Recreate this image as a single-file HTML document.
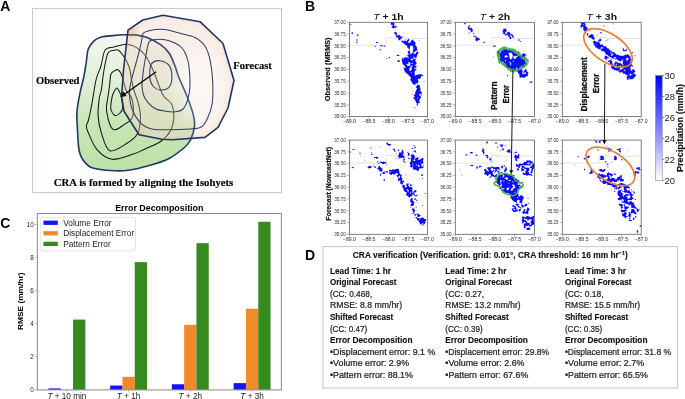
<!DOCTYPE html><html><head><meta charset="utf-8"><style>html,body{margin:0;padding:0;background:#fff;overflow:hidden}svg{display:block}</style></head><body>
<svg width="685" height="399" viewBox="0 0 685 399" font-family="Liberation Sans, sans-serif" style="will-change:transform">
<rect width="685" height="399" fill="#fff"/>
<text x="0.3" y="10.6" font-size="14" font-weight="bold">A</text>
<text x="305" y="10.6" font-size="14" font-weight="bold">B</text>
<text x="0.2" y="227.8" font-size="14" font-weight="bold">C</text>
<text x="305" y="259.8" font-size="14" font-weight="bold">D</text>
<defs>
<linearGradient id="gObs" x1="0" y1="35" x2="0" y2="171" gradientUnits="userSpaceOnUse"><stop offset="0" stop-color="#f2f7ef"/><stop offset="0.35" stop-color="#e0f0d8"/><stop offset="0.65" stop-color="#c7e6b5"/><stop offset="1" stop-color="#bde1a9"/></linearGradient>
<radialGradient id="gFc" cx="196" cy="88" r="80" gradientUnits="userSpaceOnUse"><stop offset="0" stop-color="#ffffff" stop-opacity="0.35"/><stop offset="0.55" stop-color="#f6e6dc" stop-opacity="0.62"/><stop offset="0.85" stop-color="#f1d5c2" stop-opacity="0.75"/><stop offset="1" stop-color="#efc4a5" stop-opacity="0.9"/></radialGradient>
<clipPath id="cFc"><path d="M128.0,30.2 L142.8,20.0 L163.0,15.2 L200.0,21.7 L223.0,43.5 L234.0,80.5 L228.0,108.0 L218.0,127.4 L205.0,137.4 L172.0,139.8 L162.0,139.2 L139.0,134.7 L124.0,111.3 L121.6,96.0 L123.5,70.0Z"/></clipPath>
<filter id="fBlur" x="-20%" y="-20%" width="140%" height="140%"><feGaussianBlur stdDeviation="2.2"/></filter>
<filter id="fBlur2" x="-50%" y="-50%" width="200%" height="200%"><feGaussianBlur stdDeviation="9"/></filter>
</defs>
<g id="panelA">
<rect x="32.6" y="8.4" width="248.9" height="184.3" fill="#fff" stroke="#c1c6d6" stroke-width="1"/>
<path d="M88.3,49.0 C89.6,45.5 92.1,42.7 94.3,40.7 C96.5,38.7 98.3,38.0 101.4,37.1 C104.5,36.2 109.3,36.0 113.0,35.6 C116.7,35.2 120.0,34.9 123.8,34.8 C127.6,34.7 131.8,34.5 135.7,35.0 C139.6,35.5 142.8,35.9 147.0,37.5 C151.2,39.1 156.9,42.1 160.6,44.7 C164.3,47.3 166.6,49.5 169.0,53.0 C171.4,56.5 173.4,62.0 175.0,66.0 C176.6,70.0 176.7,72.0 178.8,77.3 C180.9,82.5 185.1,91.2 187.5,97.5 C189.9,103.8 192.1,110.0 193.3,114.8 C194.5,119.6 195.0,122.1 194.5,126.3 C194.0,130.5 192.1,136.5 190.4,140.0 C188.7,143.5 187.9,144.5 184.4,147.5 C180.9,150.5 175.2,155.2 169.5,158.2 C163.8,161.2 156.9,163.3 150.0,165.3 C143.1,167.3 134.9,169.4 128.2,170.3 C121.5,171.2 116.0,170.9 110.0,170.5 C104.0,170.1 96.5,169.6 92.0,167.8 C87.5,166.1 85.2,163.0 83.0,160.0 C80.8,157.0 79.9,155.0 79.0,150.0 C78.1,145.0 77.8,136.4 77.5,130.0 C77.2,123.5 76.5,117.6 77.0,111.3 C77.5,105.0 79.0,97.9 80.2,92.0 C81.4,86.1 83.0,81.0 84.0,76.0 C85.0,71.0 85.6,66.5 86.3,62.0 C87.0,57.5 87.0,52.5 88.3,49.0Z" fill="url(#gObs)"/>
<path d="M105.1,50.0 C107.3,46.8 110.8,47.9 114.0,47.0 C117.2,46.1 121.6,44.8 124.1,44.4 C126.6,44.0 127.0,44.2 129.0,44.7 C131.0,45.2 133.5,45.7 136.2,47.4 C138.9,49.1 142.2,51.2 145.0,55.0 C147.8,58.8 150.0,63.4 153.0,70.0 C156.0,76.6 159.7,89.1 162.8,94.8 C165.9,100.5 169.8,100.2 171.6,104.0 C173.4,107.8 174.0,113.3 173.8,117.7 C173.6,122.1 172.7,126.6 170.6,130.5 C168.5,134.4 165.3,138.1 161.0,141.2 C156.7,144.3 149.6,146.9 145.0,149.0 C140.4,151.1 138.8,152.3 133.3,154.0 C127.8,155.7 118.0,160.0 112.0,159.3 C106.0,158.6 101.0,154.2 97.0,149.7 C93.0,145.1 89.8,135.9 88.0,132.0 C86.2,128.1 86.3,128.0 86.4,126.0 C86.5,124.0 87.6,123.5 88.5,120.0 C89.4,116.5 90.5,111.7 91.7,105.0 C93.0,98.3 94.5,86.5 96.0,80.0 C97.5,73.5 99.5,71.0 101.0,66.0 C102.5,61.0 102.9,53.2 105.1,50.0Z" fill="none" stroke="#161616" stroke-width="1.05"/>
<path d="M108.0,53.0 C109.5,49.8 111.3,51.0 113.0,50.5 C114.7,50.0 116.5,49.4 118.0,50.0 C119.5,50.6 120.5,52.0 122.0,54.0 C123.5,56.0 125.7,59.3 127.0,62.0 C128.3,64.7 129.2,67.0 130.0,70.0 C130.8,73.0 130.8,76.3 131.5,80.0 C132.2,83.7 133.3,88.0 134.5,92.0 C135.7,96.0 137.5,99.7 138.5,104.0 C139.5,108.3 140.7,113.0 140.5,118.0 C140.3,123.0 139.8,129.5 137.5,133.7 C135.2,137.9 131.5,140.5 126.9,143.3 C122.3,146.1 114.1,152.5 109.8,150.7 C105.5,148.9 103.2,138.4 101.3,132.6 C99.3,126.8 98.4,121.3 98.1,115.6 C97.8,109.9 98.7,102.8 99.2,98.5 C99.7,94.2 100.5,94.8 101.3,90.0 C102.1,85.2 102.9,76.2 104.0,70.0 C105.1,63.8 106.5,56.2 108.0,53.0Z" fill="none" stroke="#161616" stroke-width="1.05"/>
<path d="M111.0,74.0 C111.9,71.4 113.8,71.2 115.0,70.5 C116.2,69.8 117.3,69.1 118.5,70.0 C119.7,70.9 120.8,72.7 122.0,76.0 C123.2,79.3 124.5,86.5 126.0,90.0 C127.5,93.5 130.0,94.2 131.2,97.0 C132.4,99.8 133.1,103.5 133.3,107.0 C133.5,110.5 133.6,114.9 132.2,117.7 C130.8,120.5 128.0,122.1 124.8,124.1 C121.6,126.0 116.0,131.5 113.0,129.4 C110.0,127.3 107.5,116.5 106.6,111.3 C105.7,106.1 107.2,102.7 107.7,98.5 C108.2,94.3 109.0,90.1 109.5,86.0 C110.0,81.9 110.1,76.6 111.0,74.0Z" fill="none" stroke="#161616" stroke-width="1.05"/>
<path d="M115.0,90.0 C115.7,89.0 116.3,87.8 117.0,88.0 C117.7,88.2 118.3,89.7 119.0,91.0 C119.7,92.3 120.4,93.2 121.0,96.0 C121.6,98.8 122.8,105.2 122.6,108.0 C122.4,110.8 121.2,111.7 120.0,113.0 C118.8,114.3 116.7,116.2 115.2,115.6 C113.7,115.0 111.5,111.8 110.9,109.2 C110.3,106.6 111.2,102.5 111.5,100.0 C111.8,97.5 112.4,95.7 113.0,94.0 C113.6,92.3 114.3,91.0 115.0,90.0Z" fill="none" stroke="#161616" stroke-width="1.05"/>
<path d="M88.3,49.0 C89.6,45.5 92.1,42.7 94.3,40.7 C96.5,38.7 98.3,38.0 101.4,37.1 C104.5,36.2 109.3,36.0 113.0,35.6 C116.7,35.2 120.0,34.9 123.8,34.8 C127.6,34.7 131.8,34.5 135.7,35.0 C139.6,35.5 142.8,35.9 147.0,37.5 C151.2,39.1 156.9,42.1 160.6,44.7 C164.3,47.3 166.6,49.5 169.0,53.0 C171.4,56.5 173.4,62.0 175.0,66.0 C176.6,70.0 176.7,72.0 178.8,77.3 C180.9,82.5 185.1,91.2 187.5,97.5 C189.9,103.8 192.1,110.0 193.3,114.8 C194.5,119.6 195.0,122.1 194.5,126.3 C194.0,130.5 192.1,136.5 190.4,140.0 C188.7,143.5 187.9,144.5 184.4,147.5 C180.9,150.5 175.2,155.2 169.5,158.2 C163.8,161.2 156.9,163.3 150.0,165.3 C143.1,167.3 134.9,169.4 128.2,170.3 C121.5,171.2 116.0,170.9 110.0,170.5 C104.0,170.1 96.5,169.6 92.0,167.8 C87.5,166.1 85.2,163.0 83.0,160.0 C80.8,157.0 79.9,155.0 79.0,150.0 C78.1,145.0 77.8,136.4 77.5,130.0 C77.2,123.5 76.5,117.6 77.0,111.3 C77.5,105.0 79.0,97.9 80.2,92.0 C81.4,86.1 83.0,81.0 84.0,76.0 C85.0,71.0 85.6,66.5 86.3,62.0 C87.0,57.5 87.0,52.5 88.3,49.0Z" fill="none" stroke="#1f3763" stroke-width="1.6"/>
<path d="M128.0,30.2 L142.8,20.0 L163.0,15.2 L200.0,21.7 L223.0,43.5 L234.0,80.5 L228.0,108.0 L218.0,127.4 L205.0,137.4 L172.0,139.8 L162.0,139.2 L139.0,134.7 L124.0,111.3 L121.6,96.0 L123.5,70.0Z" fill="#f0d7c8" fill-opacity="0.42"/>
<g clip-path="url(#cFc)"><path d="M128.0,30.2 L142.8,20.0 L163.0,15.2 L200.0,21.7 L223.0,43.5 L234.0,80.5 L228.0,108.0 L218.0,127.4 L205.0,137.4 L172.0,139.8 L162.0,139.2 L139.0,134.7 L124.0,111.3 L121.6,96.0 L123.5,70.0Z" fill="none" stroke="#efc4a4" stroke-opacity="0.25" stroke-width="5" filter="url(#fBlur)"/><ellipse cx="200" cy="88" rx="26" ry="36" fill="#fff" fill-opacity="0.5" filter="url(#fBlur2)"/><circle cx="131" cy="31" r="6" fill="#efb88f" fill-opacity="0.55" filter="url(#fBlur)"/><circle cx="139" cy="134" r="5" fill="#efb88f" fill-opacity="0.5" filter="url(#fBlur)"/></g>
<g clip-path="url(#cFc)">
<path d="M105.1,50.0 C107.3,46.8 110.8,47.9 114.0,47.0 C117.2,46.1 121.6,44.8 124.1,44.4 C126.6,44.0 127.0,44.2 129.0,44.7 C131.0,45.2 133.5,45.7 136.2,47.4 C138.9,49.1 142.2,51.2 145.0,55.0 C147.8,58.8 150.0,63.4 153.0,70.0 C156.0,76.6 159.7,89.1 162.8,94.8 C165.9,100.5 169.8,100.2 171.6,104.0 C173.4,107.8 174.0,113.3 173.8,117.7 C173.6,122.1 172.7,126.6 170.6,130.5 C168.5,134.4 165.3,138.1 161.0,141.2 C156.7,144.3 149.6,146.9 145.0,149.0 C140.4,151.1 138.8,152.3 133.3,154.0 C127.8,155.7 118.0,160.0 112.0,159.3 C106.0,158.6 101.0,154.2 97.0,149.7 C93.0,145.1 89.8,135.9 88.0,132.0 C86.2,128.1 86.3,128.0 86.4,126.0 C86.5,124.0 87.6,123.5 88.5,120.0 C89.4,116.5 90.5,111.7 91.7,105.0 C93.0,98.3 94.5,86.5 96.0,80.0 C97.5,73.5 99.5,71.0 101.0,66.0 C102.5,61.0 102.9,53.2 105.1,50.0Z" fill="none" stroke="#3a2a1a" stroke-opacity="0.3" stroke-width="1.0"/>
<path d="M108.0,53.0 C109.5,49.8 111.3,51.0 113.0,50.5 C114.7,50.0 116.5,49.4 118.0,50.0 C119.5,50.6 120.5,52.0 122.0,54.0 C123.5,56.0 125.7,59.3 127.0,62.0 C128.3,64.7 129.2,67.0 130.0,70.0 C130.8,73.0 130.8,76.3 131.5,80.0 C132.2,83.7 133.3,88.0 134.5,92.0 C135.7,96.0 137.5,99.7 138.5,104.0 C139.5,108.3 140.7,113.0 140.5,118.0 C140.3,123.0 139.8,129.5 137.5,133.7 C135.2,137.9 131.5,140.5 126.9,143.3 C122.3,146.1 114.1,152.5 109.8,150.7 C105.5,148.9 103.2,138.4 101.3,132.6 C99.3,126.8 98.4,121.3 98.1,115.6 C97.8,109.9 98.7,102.8 99.2,98.5 C99.7,94.2 100.5,94.8 101.3,90.0 C102.1,85.2 102.9,76.2 104.0,70.0 C105.1,63.8 106.5,56.2 108.0,53.0Z" fill="none" stroke="#3a2a1a" stroke-opacity="0.3" stroke-width="1.0"/>
<path d="M111.0,74.0 C111.9,71.4 113.8,71.2 115.0,70.5 C116.2,69.8 117.3,69.1 118.5,70.0 C119.7,70.9 120.8,72.7 122.0,76.0 C123.2,79.3 124.5,86.5 126.0,90.0 C127.5,93.5 130.0,94.2 131.2,97.0 C132.4,99.8 133.1,103.5 133.3,107.0 C133.5,110.5 133.6,114.9 132.2,117.7 C130.8,120.5 128.0,122.1 124.8,124.1 C121.6,126.0 116.0,131.5 113.0,129.4 C110.0,127.3 107.5,116.5 106.6,111.3 C105.7,106.1 107.2,102.7 107.7,98.5 C108.2,94.3 109.0,90.1 109.5,86.0 C110.0,81.9 110.1,76.6 111.0,74.0Z" fill="none" stroke="#3a2a1a" stroke-opacity="0.3" stroke-width="1.0"/>
<path d="M115.0,90.0 C115.7,89.0 116.3,87.8 117.0,88.0 C117.7,88.2 118.3,89.7 119.0,91.0 C119.7,92.3 120.4,93.2 121.0,96.0 C121.6,98.8 122.8,105.2 122.6,108.0 C122.4,110.8 121.2,111.7 120.0,113.0 C118.8,114.3 116.7,116.2 115.2,115.6 C113.7,115.0 111.5,111.8 110.9,109.2 C110.3,106.6 111.2,102.5 111.5,100.0 C111.8,97.5 112.4,95.7 113.0,94.0 C113.6,92.3 114.3,91.0 115.0,90.0Z" fill="none" stroke="#3a2a1a" stroke-opacity="0.3" stroke-width="1.0"/>
<path d="M88.3,49.0 C89.6,45.5 92.1,42.7 94.3,40.7 C96.5,38.7 98.3,38.0 101.4,37.1 C104.5,36.2 109.3,36.0 113.0,35.6 C116.7,35.2 120.0,34.9 123.8,34.8 C127.6,34.7 131.8,34.5 135.7,35.0 C139.6,35.5 142.8,35.9 147.0,37.5 C151.2,39.1 156.9,42.1 160.6,44.7 C164.3,47.3 166.6,49.5 169.0,53.0 C171.4,56.5 173.4,62.0 175.0,66.0 C176.6,70.0 176.7,72.0 178.8,77.3 C180.9,82.5 185.1,91.2 187.5,97.5 C189.9,103.8 192.1,110.0 193.3,114.8 C194.5,119.6 195.0,122.1 194.5,126.3 C194.0,130.5 192.1,136.5 190.4,140.0 C188.7,143.5 187.9,144.5 184.4,147.5 C180.9,150.5 175.2,155.2 169.5,158.2 C163.8,161.2 156.9,163.3 150.0,165.3 C143.1,167.3 134.9,169.4 128.2,170.3 C121.5,171.2 116.0,170.9 110.0,170.5 C104.0,170.1 96.5,169.6 92.0,167.8 C87.5,166.1 85.2,163.0 83.0,160.0 C80.8,157.0 79.9,155.0 79.0,150.0 C78.1,145.0 77.8,136.4 77.5,130.0 C77.2,123.5 76.5,117.6 77.0,111.3 C77.5,105.0 79.0,97.9 80.2,92.0 C81.4,86.1 83.0,81.0 84.0,76.0 C85.0,71.0 85.6,66.5 86.3,62.0 C87.0,57.5 87.0,52.5 88.3,49.0Z" fill="none" stroke="#1f3763" stroke-opacity="0.7" stroke-width="1.4"/>
</g>
<path d="M128.0,30.2 L142.8,20.0 L163.0,15.2 L200.0,21.7 L223.0,43.5 L234.0,80.5 L228.0,108.0 L218.0,127.4 L205.0,137.4 L172.0,139.8 L162.0,139.2 L139.0,134.7 L124.0,111.3 L121.6,96.0 L123.5,70.0Z" fill="none" stroke="#1f3763" stroke-width="1.6" stroke-linejoin="round"/>
<path d="M143.0,33.5 C144.4,31.9 147.1,31.2 150.0,30.5 C152.9,29.8 157.3,29.3 160.6,29.3 C163.9,29.3 166.8,29.8 170.0,30.5 C173.2,31.2 175.8,32.1 180.0,33.3 C184.2,34.5 190.8,35.3 195.0,37.5 C199.2,39.7 202.6,42.5 205.1,46.3 C207.6,50.1 208.8,54.5 210.1,60.1 C211.3,65.8 212.2,73.1 212.6,80.2 C213.0,87.3 213.1,96.5 212.3,102.8 C211.5,109.1 209.6,113.8 207.6,117.9 C205.6,122.0 204.7,125.7 200.1,127.6 C195.5,129.5 187.6,129.1 180.0,129.4 C172.4,129.7 161.0,130.3 154.6,129.4 C148.2,128.5 145.5,127.5 141.8,124.1 C138.1,120.7 134.2,114.5 132.2,109.2 C130.1,103.9 129.5,97.2 129.5,92.0 C129.5,86.8 131.0,82.5 132.0,78.0 C133.0,73.5 134.2,69.7 135.5,65.0 C136.8,60.3 138.4,54.2 139.5,50.0 C140.6,45.8 141.2,42.8 141.8,40.0 C142.4,37.2 141.6,35.1 143.0,33.5Z" fill="none" stroke="#2c3f66" stroke-width="1.05"/>
<path d="M149.0,42.0 C150.4,39.5 151.6,40.1 154.3,39.7 C157.0,39.3 161.7,39.2 165.1,39.7 C168.5,40.2 172.2,41.6 175.0,43.0 C177.8,44.4 180.2,46.0 182.0,48.0 C183.8,50.0 184.9,52.1 186.0,55.0 C187.1,57.9 188.1,60.1 188.8,65.1 C189.5,70.1 190.2,79.3 190.0,85.2 C189.8,91.1 188.8,96.2 187.5,100.3 C186.2,104.3 184.6,107.6 182.5,109.5 C180.4,111.4 177.8,111.5 175.0,111.8 C172.2,112.1 169.2,111.8 166.0,111.3 C162.8,110.8 159.0,110.4 156.0,109.0 C153.0,107.6 150.3,105.1 148.2,102.8 C146.1,100.5 144.5,98.0 143.5,95.0 C142.5,92.0 142.0,89.2 142.0,85.0 C142.0,80.8 142.8,75.0 143.5,70.0 C144.2,65.0 145.1,59.7 146.0,55.0 C146.9,50.3 147.6,44.5 149.0,42.0Z" fill="none" stroke="#2c3f66" stroke-width="1.05"/>
<path d="M151.4,63.9 C153.0,62.0 156.5,60.4 159.5,60.7 C162.5,61.0 167.2,62.7 169.3,65.6 C171.4,68.5 172.0,74.5 171.9,78.2 C171.8,81.9 170.5,85.8 168.5,87.8 C166.5,89.8 162.5,90.2 160.0,90.0 C157.5,89.8 154.9,88.2 153.3,86.5 C151.7,84.8 150.8,82.4 150.2,80.0 C149.6,77.6 149.6,74.7 149.8,72.0 C150.0,69.3 149.8,65.8 151.4,63.9Z" fill="none" stroke="#2c3f66" stroke-width="1.05"/>
<line x1="156.2" y1="71.8" x2="124.5" y2="94.3" stroke="#000" stroke-width="1.3"/>
<path d="M120.6,97.1 L123.2,91.2 L126.6,96.0 Z" fill="#000"/>
<text x="36" y="83.6" font-family="Liberation Serif, serif" font-size="11.4" font-weight="bold" stroke="#000" stroke-width="0.15" textLength="43.5" lengthAdjust="spacingAndGlyphs">Observed</text>
<text x="233.3" y="69" font-family="Liberation Serif, serif" font-size="11.2" font-weight="bold" stroke="#000" stroke-width="0.15" textLength="38.5" lengthAdjust="spacingAndGlyphs">Forecast</text>
<text x="53.8" y="186" font-family="Liberation Serif, serif" font-size="11.1" font-weight="bold" stroke="#000" stroke-width="0.15" textLength="179.5" lengthAdjust="spacingAndGlyphs">CRA is formed by aligning the Isohyets</text>
</g>
<defs><filter id="fRough" x="-10%" y="-10%" width="120%" height="120%"><feTurbulence type="fractalNoise" baseFrequency="0.6" numOctaves="2" seed="4"/><feDisplacementMap in="SourceGraphic" scale="2.6" xChannelSelector="R" yChannelSelector="G"/></filter><linearGradient id="gCb" x1="0" y1="0" x2="0" y2="1"><stop offset="0" stop-color="#0000ff"/><stop offset="1" stop-color="#ffffff"/></linearGradient></defs>
<g id="panelB">
<text x="388.4" y="19.6" font-size="9.9" text-anchor="middle" fill="#111" textLength="30.4" lengthAdjust="spacingAndGlyphs"><tspan font-style="italic">T</tspan><tspan font-weight="bold"> + 1h</tspan></text>
<text x="494.9" y="19.6" font-size="9.9" text-anchor="middle" fill="#111" textLength="30.4" lengthAdjust="spacingAndGlyphs"><tspan font-style="italic">T</tspan><tspan font-weight="bold"> + 2h</tspan></text>
<text x="601.8" y="19.6" font-size="9.9" text-anchor="middle" fill="#111" textLength="30.4" lengthAdjust="spacingAndGlyphs"><tspan font-style="italic">T</tspan><tspan font-weight="bold"> + 3h</tspan></text>
<text transform="translate(330.2,69.4) rotate(-90)" font-size="7.7" font-weight="bold" text-anchor="middle" fill="#111" stroke="#111" stroke-width="0.2" textLength="63.8" lengthAdjust="spacingAndGlyphs">Observed (MRMS)</text>
<text transform="translate(330.6,183.8) rotate(-90)" font-size="7.7" font-weight="bold" text-anchor="middle" fill="#111" stroke="#111" stroke-width="0.2" textLength="73.8" lengthAdjust="spacingAndGlyphs">Forecast (NowcastNet)</text>
<path d="M349.4,45.2 L386.1,45.2 L386.1,37.6 L394.0,37.6 L394.2,38.5 L427.4,38.5" fill="none" stroke="#d2d2d2" stroke-width="0.6"/>
<path d="M455.3,45.2 L492.0,45.2 L492.0,37.6 L499.9,37.6 L500.1,38.5 L534.4,38.5" fill="none" stroke="#d2d2d2" stroke-width="0.6"/>
<path d="M562.3,45.2 L599.0,45.2 L599.0,37.6 L606.9,37.6 L607.1,38.5 L641.2,38.5" fill="none" stroke="#d2d2d2" stroke-width="0.6"/>
<path d="M349.4,163.0 L386.1,163.0 L386.1,155.4 L394.0,155.4 L394.2,156.2 L427.4,156.2" fill="none" stroke="#d2d2d2" stroke-width="0.6"/>
<path d="M455.3,163.0 L492.0,163.0 L492.0,155.4 L499.9,155.4 L500.1,156.2 L534.4,156.2" fill="none" stroke="#d2d2d2" stroke-width="0.6"/>
<path d="M562.3,163.0 L599.0,163.0 L599.0,155.4 L606.9,155.4 L607.1,156.2 L641.2,156.2" fill="none" stroke="#d2d2d2" stroke-width="0.6"/>
<path d="M390.4 22.3h3.5v0.5h-3.5zM390.4 22.8h3.5v0.5h-3.5zM390.9 23.3h3.5v0.5h-3.5zM390.9 23.8h3.5v0.5h-3.5zM390.9 24.3h3.5v0.5h-3.5zM392.4 24.8h2v0.5h-2zM392.9 25.3h1v0.5h-1zM392.4 25.8h2v0.5h-2zM394.9 25.8h1.5v0.5h-1.5zM391.9 26.3h4.5v0.5h-4.5zM391.4 26.8h5v0.5h-5zM391.9 27.3h4v0.5h-4zM392.4 27.8h2v0.5h-2zM396.9 27.8h0.5v0.5h-0.5zM395.4 31.8h0.5v0.5h-0.5zM393.9 32.3h2.5v0.5h-2.5zM393.9 32.8h3v0.5h-3zM394.9 33.3h2v0.5h-2zM394.9 33.8h2v0.5h-2zM394.9 34.3h1.5v0.5h-1.5zM395.4 34.8h1v0.5h-1zM398.4 34.8h1v0.5h-1zM395.9 35.3h1v0.5h-1zM397.4 35.3h2.5v0.5h-2.5zM395.9 35.8h4.5v0.5h-4.5zM395.9 36.3h5v0.5h-5zM395.9 36.8h6.5v0.5h-6.5zM397.4 37.3h5v0.5h-5zM397.9 37.8h4v0.5h-4zM398.4 38.3h3v0.5h-3zM398.4 38.8h2v0.5h-2zM408.4 38.8h0.5v0.5h-0.5zM398.4 39.3h2v0.5h-2zM405.4 39.3h0.5v0.5h-0.5zM407.9 39.3h1.5v0.5h-1.5zM398.4 39.8h2v0.5h-2zM405.4 39.8h0.5v0.5h-0.5zM407.4 39.8h2v0.5h-2zM411.9 39.8h1v0.5h-1zM401.9 40.3h0.5v0.5h-0.5zM406.9 40.3h2v0.5h-2zM411.4 40.3h2v0.5h-2zM401.4 40.8h1.5v0.5h-1.5zM403.9 40.8h2v0.5h-2zM406.9 40.8h2v0.5h-2zM410.9 40.8h3v0.5h-3zM401.4 41.3h7v0.5h-7zM410.9 41.3h3.5v0.5h-3.5zM401.9 41.8h6v0.5h-6zM410.4 41.8h4.5v0.5h-4.5zM402.4 42.3h5.5v0.5h-5.5zM410.4 42.3h5v0.5h-5zM403.4 42.8h12v0.5h-12zM403.9 43.3h11.5v0.5h-11.5zM404.4 43.8h11v0.5h-11zM404.9 44.3h10.5v0.5h-10.5zM405.4 44.8h10v0.5h-10zM406.4 45.3h5.5v0.5h-5.5zM412.4 45.3h3v0.5h-3zM406.9 45.8h3v0.5h-3zM412.4 45.8h3.5v0.5h-3.5zM407.4 46.3h2.5v0.5h-2.5zM412.9 46.3h3.5v0.5h-3.5zM406.9 46.8h3v0.5h-3zM412.9 46.8h4v0.5h-4zM407.4 47.3h2.5v0.5h-2.5zM413.4 47.3h3.5v0.5h-3.5zM407.9 47.8h2v0.5h-2zM413.4 47.8h3.5v0.5h-3.5zM408.4 48.3h1.5v0.5h-1.5zM413.4 48.3h3.5v0.5h-3.5zM408.9 48.8h0.5v0.5h-0.5zM413.4 48.8h4v0.5h-4zM408.9 49.3h0.5v0.5h-0.5zM413.4 49.3h4v0.5h-4zM408.9 49.8h0.5v0.5h-0.5zM412.9 49.8h4v0.5h-4zM408.9 50.3h0.5v0.5h-0.5zM412.9 50.3h4v0.5h-4zM408.4 50.8h1v0.5h-1zM412.9 50.8h3v0.5h-3zM417.4 50.8h0.5v0.5h-0.5zM407.9 51.3h2v0.5h-2zM412.9 51.3h2v0.5h-2zM417.4 51.3h0.5v0.5h-0.5zM407.9 51.8h2v0.5h-2zM412.9 51.8h1.5v0.5h-1.5zM416.9 51.8h1v0.5h-1zM407.9 52.3h2.5v0.5h-2.5zM412.4 52.3h0.5v0.5h-0.5zM413.9 52.3h0.5v0.5h-0.5zM415.9 52.3h2.5v0.5h-2.5zM407.9 52.8h2.5v0.5h-2.5zM411.9 52.8h1v0.5h-1zM415.9 52.8h2.5v0.5h-2.5zM408.4 53.3h1.5v0.5h-1.5zM411.9 53.3h2v0.5h-2zM415.9 53.3h2v0.5h-2zM408.9 53.8h0.5v0.5h-0.5zM410.4 53.8h0.5v0.5h-0.5zM411.4 53.8h3.5v0.5h-3.5zM415.4 53.8h2.5v0.5h-2.5zM408.4 54.3h9v0.5h-9zM407.9 54.8h9.5v0.5h-9.5zM406.9 55.3h10v0.5h-10zM407.4 55.8h6v0.5h-6zM413.9 55.8h3v0.5h-3zM407.9 56.3h5.5v0.5h-5.5zM413.9 56.3h3v0.5h-3zM408.4 56.8h8v0.5h-8zM404.4 57.3h2v0.5h-2zM406.9 57.3h0.5v0.5h-0.5zM408.9 57.3h4.5v0.5h-4.5zM414.9 57.3h1.5v0.5h-1.5zM401.9 57.8h0.5v0.5h-0.5zM404.4 57.8h9v0.5h-9zM415.4 57.8h1v0.5h-1zM401.9 58.3h1.5v0.5h-1.5zM403.9 58.3h10v0.5h-10zM401.9 58.8h8.5v0.5h-8.5zM413.4 58.8h1.5v0.5h-1.5zM401.9 59.3h9v0.5h-9zM413.4 59.3h2.5v0.5h-2.5zM401.9 59.8h9v0.5h-9zM412.4 59.8h3.5v0.5h-3.5zM401.9 60.3h13v0.5h-13zM401.9 60.8h13.5v0.5h-13.5zM401.9 61.3h14v0.5h-14zM401.9 61.8h6.5v0.5h-6.5zM408.9 61.8h7.5v0.5h-7.5zM402.4 62.3h6v0.5h-6zM409.9 62.3h6.5v0.5h-6.5zM402.9 62.8h5.5v0.5h-5.5zM410.4 62.8h1v0.5h-1zM412.4 62.8h4v0.5h-4zM402.4 63.3h6v0.5h-6zM410.4 63.3h1v0.5h-1zM412.9 63.3h3.5v0.5h-3.5zM402.4 63.8h4v0.5h-4zM407.4 63.8h1v0.5h-1zM409.9 63.8h6.5v0.5h-6.5zM402.9 64.3h3.5v0.5h-3.5zM410.4 64.3h5.5v0.5h-5.5zM403.9 64.8h3v0.5h-3zM410.4 64.8h4.5v0.5h-4.5zM404.4 65.3h3v0.5h-3zM410.4 65.3h1.5v0.5h-1.5zM412.4 65.3h2.5v0.5h-2.5zM404.4 65.8h3v0.5h-3zM408.4 65.8h3v0.5h-3zM412.9 65.8h3.5v0.5h-3.5zM404.9 66.3h6v0.5h-6zM412.4 66.3h4v0.5h-4zM405.4 66.8h5v0.5h-5zM411.9 66.8h4.5v0.5h-4.5zM403.4 67.3h0.5v0.5h-0.5zM405.9 67.3h4v0.5h-4zM411.4 67.3h5v0.5h-5zM403.9 67.8h6v0.5h-6zM411.4 67.8h3v0.5h-3zM403.9 68.3h5.5v0.5h-5.5zM411.9 68.3h2.5v0.5h-2.5zM403.9 68.8h5.5v0.5h-5.5zM411.9 68.8h4v0.5h-4zM403.9 69.3h5.5v0.5h-5.5zM411.9 69.3h4.5v0.5h-4.5zM404.4 69.8h5v0.5h-5zM410.9 69.8h5.5v0.5h-5.5zM404.4 70.3h5v0.5h-5zM410.9 70.3h4.5v0.5h-4.5zM404.4 70.8h5.5v0.5h-5.5zM410.4 70.8h4.5v0.5h-4.5zM416.9 70.8h0.5v0.5h-0.5zM404.9 71.3h9.5v0.5h-9.5zM405.4 71.8h5.5v0.5h-5.5zM411.4 71.8h3.5v0.5h-3.5zM405.4 72.3h5.5v0.5h-5.5zM411.9 72.3h2.5v0.5h-2.5zM406.4 72.8h8v0.5h-8zM406.9 73.3h8v0.5h-8zM407.4 73.8h7.5v0.5h-7.5zM408.4 74.3h6.5v0.5h-6.5zM418.4 74.3h3.5v0.5h-3.5zM408.4 74.8h6v0.5h-6zM416.4 74.8h6v0.5h-6zM408.9 75.3h6.5v0.5h-6.5zM415.9 75.3h6v0.5h-6zM409.4 75.8h12v0.5h-12zM409.9 76.3h11.5v0.5h-11.5zM410.4 76.8h10.5v0.5h-10.5zM410.9 77.3h10v0.5h-10zM410.9 77.8h5v0.5h-5zM416.4 77.8h4.5v0.5h-4.5zM410.9 78.3h9v0.5h-9zM410.4 78.8h8v0.5h-8zM410.4 79.3h7.5v0.5h-7.5zM410.4 79.8h7.5v0.5h-7.5zM410.9 80.3h7.5v0.5h-7.5zM410.9 80.8h7.5v0.5h-7.5zM411.4 81.3h7v0.5h-7zM411.9 81.8h6.5v0.5h-6.5zM411.9 82.3h6v0.5h-6zM412.4 82.8h5.5v0.5h-5.5zM412.4 83.3h3v0.5h-3zM416.9 83.3h0.5v0.5h-0.5zM412.4 83.8h3.5v0.5h-3.5zM414.4 84.3h1.5v0.5h-1.5zM417.4 84.8h1.5v0.5h-1.5zM416.9 85.3h3v0.5h-3zM416.9 85.8h3v0.5h-3zM415.9 86.3h4v0.5h-4zM415.9 86.8h4v0.5h-4zM415.9 87.3h4v0.5h-4zM416.9 87.8h3.5v0.5h-3.5zM416.9 88.3h3.5v0.5h-3.5zM416.9 88.8h3.5v0.5h-3.5zM416.4 89.3h4v0.5h-4zM416.4 89.8h4v0.5h-4zM415.9 90.3h4.5v0.5h-4.5zM415.9 90.8h3v0.5h-3zM419.4 90.8h1v0.5h-1zM415.9 91.3h5v0.5h-5zM415.4 91.8h6.5v0.5h-6.5zM414.9 92.3h7v0.5h-7zM415.4 92.8h6.5v0.5h-6.5zM415.4 93.3h6v0.5h-6zM414.9 93.8h4.5v0.5h-4.5zM420.4 93.8h1v0.5h-1zM411.9 94.3h1v0.5h-1zM414.9 94.3h4.5v0.5h-4.5zM420.9 94.3h0.5v0.5h-0.5zM413.9 94.8h5.5v0.5h-5.5zM421.4 94.8h0.5v0.5h-0.5zM413.9 95.3h5.5v0.5h-5.5zM421.4 95.3h0.5v0.5h-0.5zM413.9 95.8h6.5v0.5h-6.5zM414.9 96.3h6v0.5h-6zM414.4 96.8h6.5v0.5h-6.5zM413.4 97.3h7.5v0.5h-7.5zM413.4 97.8h4v0.5h-4zM417.9 97.8h2.5v0.5h-2.5zM413.9 98.3h3.5v0.5h-3.5zM418.4 98.3h2v0.5h-2zM414.4 98.8h5.5v0.5h-5.5zM414.4 99.3h5.5v0.5h-5.5zM414.9 99.8h4.5v0.5h-4.5zM415.4 100.3h3.5v0.5h-3.5zM415.4 100.8h4v0.5h-4zM415.9 101.3h3.5v0.5h-3.5zM415.9 101.8h4v0.5h-4zM416.4 102.3h3.5v0.5h-3.5zM416.4 102.8h3v0.5h-3zM416.9 103.3h1v0.5h-1zM417.4 103.8h0.5v0.5h-0.5zM416.9 104.3h1v0.5h-1zM416.4 104.8h1.5v0.5h-1.5zM416.9 105.3h0.5v0.5h-0.5z" fill="#0c0cff"/>
<rect x="350.3" y="23.9" width="1.0" height="1.0" fill="#0c0cff"/>
<rect x="351.5" y="32.4" width="1.6" height="1.4" fill="#0c0cff"/>
<rect x="356.8" y="34.5" width="1.6" height="1.4" fill="#0c0cff"/>
<rect x="356.5" y="39.2" width="1.0" height="1.6" fill="#0c0cff"/>
<rect x="356.2" y="41.7" width="1.2" height="1.2" fill="#0c0cff"/>
<rect x="376.1" y="42.0" width="1.8" height="1.1" fill="#0c0cff"/>
<rect x="380.4" y="45.2" width="2.2" height="1.1" fill="#0c0cff"/>
<rect x="383.7" y="45.6" width="1.6" height="1.1" fill="#0c0cff"/>
<rect x="374.9" y="45.9" width="1.2" height="1.0" fill="#0c0cff"/>
<rect x="379.7" y="49.1" width="1.2" height="1.2" fill="#0c0cff"/>
<rect x="388.7" y="56.9" width="1.2" height="1.2" fill="#0c0cff"/>
<rect x="385.9" y="58.3" width="0.8" height="0.8" fill="#0c0cff"/>
<rect x="396.8" y="54.8" width="2.4" height="1.2" fill="#0c0cff"/>
<rect x="397.6" y="60.2" width="2.0" height="1.8" fill="#0c0cff"/>
<rect x="414.3" y="106.9" width="0.8" height="0.8" fill="#0c0cff"/>
<rect x="422.1" y="74.9" width="1.2" height="1.0" fill="#0c0cff"/>
<rect x="423.6" y="81.1" width="0.8" height="0.8" fill="#0c0cff"/>
<rect x="402.6" y="36.6" width="0.7" height="0.7" fill="#0c0cff"/>
<rect x="418.6" y="40.6" width="0.7" height="0.7" fill="#0c0cff"/>
<path d="M497.0,51.6 L500.2,48.4 L504.1,46.6 L508.0,47.9 L514.2,49.1 L519.7,52.3 L521.5,55.9 L525.5,57.1 L528.6,60.2 L527.6,64.5 L524.3,67.5 L520.6,70.7 L516.0,71.6 L511.6,71.7 L506.9,68.7 L502.0,64.3 L498.8,62.7 L498.1,58.4 L497.0,55.0Z" fill="#45b34a" stroke="#45b34a" stroke-width="0.6" filter="url(#fRough)"/>
<path d="M500.0,52.6 L502.0,50.6 L504.5,49.6 L507.8,50.7 L513.5,51.8 L517.6,54.5 L519.3,58.0 L523.8,59.5 L525.8,61.0 L525.0,63.4 L522.5,65.4 L519.3,68.0 L515.8,68.8 L512.3,68.9 L508.6,66.2 L504.0,62.2 L501.2,60.4 L500.9,57.6 L500.0,55.0Z" fill="#fff" filter="url(#fRough)"/>
<path d="M468.8 25.3h1v0.5h-1zM468.8 25.8h1v0.5h-1zM468.3 26.3h1.5v0.5h-1.5zM468.3 26.8h1v0.5h-1zM467.8 27.3h1.5v0.5h-1.5zM467.8 27.8h2v0.5h-2zM470.3 27.8h1.5v0.5h-1.5zM467.8 28.3h4v0.5h-4zM504.8 28.3h0.5v0.5h-0.5zM468.3 28.8h3.5v0.5h-3.5zM503.3 28.8h2.5v0.5h-2.5zM468.3 29.3h4.5v0.5h-4.5zM503.3 29.3h3v0.5h-3zM470.3 29.8h2.5v0.5h-2.5zM503.3 29.8h3.5v0.5h-3.5zM470.3 30.3h2.5v0.5h-2.5zM502.8 30.3h4v0.5h-4zM470.8 30.8h2v0.5h-2zM502.3 30.8h4.5v0.5h-4.5zM470.8 31.3h1.5v0.5h-1.5zM502.8 31.3h3v0.5h-3zM471.3 31.8h1v0.5h-1zM503.3 31.8h2.5v0.5h-2.5zM507.8 31.8h1v0.5h-1zM503.3 32.3h2v0.5h-2zM507.3 32.3h2.5v0.5h-2.5zM473.3 32.8h0.5v0.5h-0.5zM502.8 32.8h2.5v0.5h-2.5zM506.8 32.8h3.5v0.5h-3.5zM473.3 33.3h1v0.5h-1zM502.8 33.3h2v0.5h-2zM506.8 33.3h3.5v0.5h-3.5zM473.3 33.8h1v0.5h-1zM503.8 33.8h1.5v0.5h-1.5zM506.3 33.8h4v0.5h-4zM510.8 33.8h1v0.5h-1zM504.8 34.3h5.5v0.5h-5.5zM510.8 34.3h1.5v0.5h-1.5zM504.8 34.8h2v0.5h-2zM507.8 34.8h0.5v0.5h-0.5zM508.8 34.8h1.5v0.5h-1.5zM510.8 34.8h2v0.5h-2zM505.3 35.3h0.5v0.5h-0.5zM507.8 35.3h2.5v0.5h-2.5zM511.3 35.3h2v0.5h-2zM473.3 35.8h0.5v0.5h-0.5zM474.3 35.8h1.5v0.5h-1.5zM507.8 35.8h2v0.5h-2zM511.8 35.8h1.5v0.5h-1.5zM473.3 36.3h3v0.5h-3zM508.3 36.3h2v0.5h-2zM512.3 36.3h1.5v0.5h-1.5zM475.3 36.8h1v0.5h-1zM509.3 36.8h2v0.5h-2zM512.3 36.8h1.5v0.5h-1.5zM475.8 37.3h1.5v0.5h-1.5zM509.3 37.3h2v0.5h-2zM512.8 37.3h1v0.5h-1zM475.8 37.8h3v0.5h-3zM509.3 37.8h2v0.5h-2zM475.8 38.3h3.5v0.5h-3.5zM509.8 38.3h1.5v0.5h-1.5zM475.3 38.8h4.5v0.5h-4.5zM509.8 38.8h1v0.5h-1zM475.3 39.3h4.5v0.5h-4.5zM475.8 39.8h3.5v0.5h-3.5zM475.8 40.3h2v0.5h-2zM475.8 40.8h1.5v0.5h-1.5zM504.3 49.3h1v0.5h-1zM503.8 49.8h4v0.5h-4zM501.8 50.3h6.5v0.5h-6.5zM509.3 50.3h1v0.5h-1zM501.3 50.8h10.5v0.5h-10.5zM501.3 51.3h12v0.5h-12zM500.8 51.8h13v0.5h-13zM500.8 52.3h10v0.5h-10zM511.3 52.3h3v0.5h-3zM500.3 52.8h8v0.5h-8zM511.8 52.8h3v0.5h-3zM500.3 53.3h8.5v0.5h-8.5zM511.8 53.3h5v0.5h-5zM522.8 53.3h1v0.5h-1zM499.8 53.8h9v0.5h-9zM512.3 53.8h4.5v0.5h-4.5zM522.3 53.8h3v0.5h-3zM499.8 54.3h9v0.5h-9zM512.3 54.3h5v0.5h-5zM522.3 54.3h3.5v0.5h-3.5zM499.8 54.8h9.5v0.5h-9.5zM512.8 54.8h5v0.5h-5zM521.8 54.8h5v0.5h-5zM499.8 55.3h6v0.5h-6zM507.3 55.3h2v0.5h-2zM512.8 55.3h5.5v0.5h-5.5zM521.8 55.3h3.5v0.5h-3.5zM499.8 55.8h5v0.5h-5zM507.3 55.8h2v0.5h-2zM512.8 55.8h2v0.5h-2zM515.3 55.8h1v0.5h-1zM517.8 55.8h1v0.5h-1zM521.3 55.8h4v0.5h-4zM500.3 56.3h4.5v0.5h-4.5zM507.8 56.3h1.5v0.5h-1.5zM512.8 56.3h0.5v0.5h-0.5zM517.8 56.3h2v0.5h-2zM521.3 56.3h2.5v0.5h-2.5zM524.3 56.3h1v0.5h-1zM500.3 56.8h4v0.5h-4zM507.8 56.8h1.5v0.5h-1.5zM512.3 56.8h1v0.5h-1zM516.8 56.8h3.5v0.5h-3.5zM500.3 57.3h9v0.5h-9zM512.3 57.3h1v0.5h-1zM516.3 57.3h4.5v0.5h-4.5zM500.8 57.8h9v0.5h-9zM512.3 57.8h1.5v0.5h-1.5zM516.3 57.8h4.5v0.5h-4.5zM500.8 58.3h9v0.5h-9zM512.3 58.3h1.5v0.5h-1.5zM515.8 58.3h5.5v0.5h-5.5zM500.3 58.8h10v0.5h-10zM511.3 58.8h2.5v0.5h-2.5zM514.3 58.8h7v0.5h-7zM521.8 58.8h1v0.5h-1zM499.8 59.3h10.5v0.5h-10.5zM510.8 59.3h13v0.5h-13zM499.8 59.8h5.5v0.5h-5.5zM505.8 59.8h19v0.5h-19zM500.3 60.3h4.5v0.5h-4.5zM505.8 60.3h19v0.5h-19zM501.3 60.8h3.5v0.5h-3.5zM505.8 60.8h7v0.5h-7zM513.8 60.8h11v0.5h-11zM502.3 61.3h10.5v0.5h-10.5zM513.8 61.3h11.5v0.5h-11.5zM503.3 61.8h5.5v0.5h-5.5zM509.8 61.8h15.5v0.5h-15.5zM503.8 62.3h5.5v0.5h-5.5zM510.8 62.3h15v0.5h-15zM503.8 62.8h6v0.5h-6zM510.8 62.8h15v0.5h-15zM505.8 63.3h4.5v0.5h-4.5zM511.3 63.3h14v0.5h-14zM505.8 63.8h4.5v0.5h-4.5zM511.3 63.8h13.5v0.5h-13.5zM505.8 64.3h4.5v0.5h-4.5zM511.3 64.3h12.5v0.5h-12.5zM506.3 64.8h3.5v0.5h-3.5zM510.8 64.8h13v0.5h-13zM506.8 65.3h14.5v0.5h-14.5zM521.8 65.3h1.5v0.5h-1.5zM506.8 65.8h14.5v0.5h-14.5zM521.8 65.8h1.5v0.5h-1.5zM506.8 66.3h14v0.5h-14zM507.3 66.8h13v0.5h-13zM508.3 67.3h11.5v0.5h-11.5zM510.3 67.8h5.5v0.5h-5.5zM516.8 67.8h2.5v0.5h-2.5zM510.8 68.3h5v0.5h-5zM517.8 68.3h1.5v0.5h-1.5zM511.8 68.8h1v0.5h-1zM513.8 68.8h2v0.5h-2zM522.8 68.8h1v0.5h-1zM525.3 68.8h1v0.5h-1zM514.3 69.3h1.5v0.5h-1.5zM525.3 69.3h1v0.5h-1zM519.8 69.8h2.5v0.5h-2.5zM524.8 69.8h1.5v0.5h-1.5zM517.8 70.3h4.5v0.5h-4.5zM524.3 70.3h2.5v0.5h-2.5zM517.8 70.8h4.5v0.5h-4.5zM524.3 70.8h2.5v0.5h-2.5zM517.3 71.3h5.5v0.5h-5.5zM523.8 71.3h3v0.5h-3zM517.8 71.8h4.5v0.5h-4.5zM522.8 71.8h5v0.5h-5zM517.8 72.3h4.5v0.5h-4.5zM523.3 72.3h1v0.5h-1zM525.8 72.3h2.5v0.5h-2.5zM518.3 72.8h4v0.5h-4zM523.3 72.8h0.5v0.5h-0.5zM525.8 72.8h2.5v0.5h-2.5zM518.3 73.3h4v0.5h-4zM525.8 73.3h2.5v0.5h-2.5zM518.8 73.8h4v0.5h-4zM523.8 73.8h4v0.5h-4zM519.3 74.3h8.5v0.5h-8.5zM519.3 74.8h8.5v0.5h-8.5zM519.8 75.3h8v0.5h-8zM519.3 75.8h8.5v0.5h-8.5zM519.3 76.3h6.5v0.5h-6.5zM519.8 76.8h5.5v0.5h-5.5zM519.8 77.3h1.5v0.5h-1.5zM522.8 77.3h2v0.5h-2z" fill="#0c0cff"/>
<rect x="464.2" y="22.8" width="1.4" height="1.4" fill="#0c0cff"/>
<rect x="468.8" y="32.7" width="1.2" height="0.8" fill="#0c0cff"/>
<rect x="483.3" y="41.8" width="1.8" height="1.0" fill="#0c0cff"/>
<rect x="493.1" y="45.5" width="2.6" height="1.2" fill="#0c0cff"/>
<rect x="518.2" y="39.5" width="1.6" height="1.1" fill="#0c0cff"/>
<rect x="520.0" y="41.0" width="0.9" height="0.9" fill="#0c0cff"/>
<rect x="529.6" y="81.5" width="2.8" height="1.2" fill="#0c0cff"/>
<rect x="507.0" y="75.2" width="1.0" height="1.0" fill="#0c0cff"/>
<rect x="497.9" y="51.7" width="1.4" height="1.4" fill="#0c0cff"/>
<rect x="493.1" y="56.5" width="0.7" height="0.7" fill="#0c0cff"/>
<path d="M580.3 22.3h5v0.5h-5zM580.8 22.8h4.5v0.5h-4.5zM581.3 23.3h3.5v0.5h-3.5zM581.3 23.8h4v0.5h-4zM581.3 24.3h1.5v0.5h-1.5zM583.8 24.3h2v0.5h-2zM580.8 24.8h4.5v0.5h-4.5zM580.8 25.3h4v0.5h-4zM580.3 25.8h5.5v0.5h-5.5zM580.3 26.3h2.5v0.5h-2.5zM583.3 26.3h3v0.5h-3zM580.8 26.8h1.5v0.5h-1.5zM583.3 26.8h3.5v0.5h-3.5zM580.8 27.3h1v0.5h-1zM583.3 27.3h3.5v0.5h-3.5zM583.3 27.8h4v0.5h-4zM583.3 28.3h4.5v0.5h-4.5zM583.3 28.8h5v0.5h-5zM583.3 29.3h5v0.5h-5zM583.3 29.8h4.5v0.5h-4.5zM583.8 30.3h3.5v0.5h-3.5zM584.3 30.8h3v0.5h-3zM584.8 31.3h2v0.5h-2zM584.8 31.8h1.5v0.5h-1.5zM584.8 32.3h1.5v0.5h-1.5zM586.8 33.3h1.5v0.5h-1.5zM586.8 33.8h1.5v0.5h-1.5zM586.8 34.3h1v0.5h-1zM590.8 34.3h2v0.5h-2zM586.8 34.8h1v0.5h-1zM589.8 34.8h3.5v0.5h-3.5zM586.8 35.3h1v0.5h-1zM589.3 35.3h4.5v0.5h-4.5zM588.8 35.8h5v0.5h-5zM588.3 36.3h5v0.5h-5zM588.3 36.8h5.5v0.5h-5.5zM601.3 36.8h0.5v0.5h-0.5zM588.8 37.3h5.5v0.5h-5.5zM591.3 37.8h3.5v0.5h-3.5zM591.8 38.3h3v0.5h-3zM592.3 38.8h2.5v0.5h-2.5zM599.8 38.8h1v0.5h-1zM592.8 39.3h1v0.5h-1zM599.3 39.3h2v0.5h-2zM598.8 39.8h2.5v0.5h-2.5zM598.3 40.3h3v0.5h-3zM593.8 40.8h1.5v0.5h-1.5zM598.3 40.8h2.5v0.5h-2.5zM593.3 41.3h2.5v0.5h-2.5zM598.3 41.3h1v0.5h-1zM593.3 41.8h4v0.5h-4zM598.3 41.8h0.5v0.5h-0.5zM592.8 42.3h6.5v0.5h-6.5zM593.3 42.8h6.5v0.5h-6.5zM593.8 43.3h6v0.5h-6zM593.8 43.8h1.5v0.5h-1.5zM596.3 43.8h4v0.5h-4zM593.8 44.3h2v0.5h-2zM596.3 44.3h4v0.5h-4zM601.8 44.3h1v0.5h-1zM593.8 44.8h9v0.5h-9zM594.8 45.3h8v0.5h-8zM594.8 45.8h9v0.5h-9zM595.3 46.3h11v0.5h-11zM595.3 46.8h11v0.5h-11zM595.8 47.3h5v0.5h-5zM602.8 47.3h4v0.5h-4zM597.3 47.8h3.5v0.5h-3.5zM603.3 47.8h3.5v0.5h-3.5zM622.8 47.8h0.5v0.5h-0.5zM597.8 48.3h3v0.5h-3zM602.3 48.3h6v0.5h-6zM622.8 48.3h1v0.5h-1zM598.3 48.8h2v0.5h-2zM600.8 48.8h8v0.5h-8zM622.8 48.8h1v0.5h-1zM626.3 48.8h0.5v0.5h-0.5zM600.8 49.3h8.5v0.5h-8.5zM622.8 49.3h1v0.5h-1zM625.8 49.3h1v0.5h-1zM600.8 49.8h9v0.5h-9zM622.8 49.8h1.5v0.5h-1.5zM625.3 49.8h1.5v0.5h-1.5zM601.3 50.3h9v0.5h-9zM622.8 50.3h4v0.5h-4zM601.8 50.8h9.5v0.5h-9.5zM623.3 50.8h3v0.5h-3zM604.3 51.3h8v0.5h-8zM604.8 51.8h7.5v0.5h-7.5zM604.8 52.3h5.5v0.5h-5.5zM611.3 52.3h3v0.5h-3zM605.3 52.8h5v0.5h-5zM611.3 52.8h3.5v0.5h-3.5zM605.3 53.3h6.5v0.5h-6.5zM612.3 53.3h3v0.5h-3zM605.8 53.8h5.5v0.5h-5.5zM612.8 53.8h3.5v0.5h-3.5zM605.8 54.3h5.5v0.5h-5.5zM613.3 54.3h3v0.5h-3zM626.8 54.3h1v0.5h-1zM607.8 54.8h3v0.5h-3zM612.8 54.8h5.5v0.5h-5.5zM624.8 54.8h4v0.5h-4zM607.8 55.3h3v0.5h-3zM612.3 55.3h7.5v0.5h-7.5zM623.8 55.3h5.5v0.5h-5.5zM604.8 55.8h1.5v0.5h-1.5zM608.3 55.8h21.5v0.5h-21.5zM604.8 56.3h2.5v0.5h-2.5zM609.3 56.3h21v0.5h-21zM604.8 56.8h3v0.5h-3zM610.3 56.8h5v0.5h-5zM615.8 56.8h15v0.5h-15zM604.8 57.3h4v0.5h-4zM611.3 57.3h2.5v0.5h-2.5zM615.8 57.3h14.5v0.5h-14.5zM604.3 57.8h4.5v0.5h-4.5zM611.8 57.8h2v0.5h-2zM615.8 57.8h10.5v0.5h-10.5zM627.8 57.8h2.5v0.5h-2.5zM604.3 58.3h2.5v0.5h-2.5zM609.8 58.3h0.5v0.5h-0.5zM612.8 58.3h1.5v0.5h-1.5zM615.3 58.3h11v0.5h-11zM628.8 58.3h1.5v0.5h-1.5zM605.3 58.8h1.5v0.5h-1.5zM610.3 58.8h0.5v0.5h-0.5zM614.3 58.8h2v0.5h-2zM617.3 58.8h9v0.5h-9zM628.3 58.8h3v0.5h-3zM605.8 59.3h1v0.5h-1zM610.8 59.3h1v0.5h-1zM615.8 59.3h0.5v0.5h-0.5zM617.3 59.3h5.5v0.5h-5.5zM623.3 59.3h2.5v0.5h-2.5zM628.3 59.3h3.5v0.5h-3.5zM605.8 59.8h1v0.5h-1zM611.3 59.8h1v0.5h-1zM616.8 59.8h5.5v0.5h-5.5zM623.3 59.8h2.5v0.5h-2.5zM627.8 59.8h4v0.5h-4zM608.8 60.3h2v0.5h-2zM618.3 60.3h3.5v0.5h-3.5zM622.8 60.3h4.5v0.5h-4.5zM627.8 60.3h2.5v0.5h-2.5zM630.8 60.3h0.5v0.5h-0.5zM607.8 60.8h4v0.5h-4zM619.8 60.8h1v0.5h-1zM622.8 60.8h7v0.5h-7zM630.8 60.8h0.5v0.5h-0.5zM607.8 61.3h4.5v0.5h-4.5zM615.3 61.3h0.5v0.5h-0.5zM619.8 61.3h0.5v0.5h-0.5zM622.8 61.3h7v0.5h-7zM630.3 61.3h1.5v0.5h-1.5zM607.8 61.8h0.5v0.5h-0.5zM609.3 61.8h3v0.5h-3zM615.8 61.8h1v0.5h-1zM622.8 61.8h9v0.5h-9zM609.8 62.3h2.5v0.5h-2.5zM614.8 62.3h3v0.5h-3zM622.8 62.3h9.5v0.5h-9.5zM609.8 62.8h2.5v0.5h-2.5zM614.3 62.8h4.5v0.5h-4.5zM619.3 62.8h1v0.5h-1zM622.8 62.8h7.5v0.5h-7.5zM631.3 62.8h0.5v0.5h-0.5zM609.8 63.3h2.5v0.5h-2.5zM614.3 63.3h6.5v0.5h-6.5zM622.8 63.3h8v0.5h-8zM631.3 63.3h0.5v0.5h-0.5zM609.8 63.8h3v0.5h-3zM614.3 63.8h1.5v0.5h-1.5zM616.8 63.8h5v0.5h-5zM622.8 63.8h8.5v0.5h-8.5zM609.8 64.3h3.5v0.5h-3.5zM614.3 64.3h1.5v0.5h-1.5zM616.8 64.3h5.5v0.5h-5.5zM623.3 64.3h8.5v0.5h-8.5zM611.3 64.8h2v0.5h-2zM614.3 64.8h1.5v0.5h-1.5zM616.3 64.8h6v0.5h-6zM623.3 64.8h9v0.5h-9zM611.3 65.3h8.5v0.5h-8.5zM620.3 65.3h2.5v0.5h-2.5zM623.3 65.3h9.5v0.5h-9.5zM611.3 65.8h8.5v0.5h-8.5zM620.8 65.8h10.5v0.5h-10.5zM631.8 65.8h1v0.5h-1zM611.3 66.3h4.5v0.5h-4.5zM616.8 66.3h3v0.5h-3zM620.8 66.3h10v0.5h-10zM632.3 66.3h0.5v0.5h-0.5zM611.3 66.8h3.5v0.5h-3.5zM616.8 66.8h3v0.5h-3zM620.8 66.8h10v0.5h-10zM611.3 67.3h3.5v0.5h-3.5zM616.8 67.3h13.5v0.5h-13.5zM611.3 67.8h8.5v0.5h-8.5zM621.3 67.8h1v0.5h-1zM623.8 67.8h6.5v0.5h-6.5zM611.8 68.3h8v0.5h-8zM622.8 68.3h7.5v0.5h-7.5zM612.3 68.8h7.5v0.5h-7.5zM622.3 68.8h8.5v0.5h-8.5zM613.8 69.3h6v0.5h-6zM620.3 69.3h10.5v0.5h-10.5zM632.3 69.3h1.5v0.5h-1.5zM614.3 69.8h5v0.5h-5zM620.3 69.8h4v0.5h-4zM625.3 69.8h5.5v0.5h-5.5zM632.3 69.8h2v0.5h-2zM616.3 70.3h2.5v0.5h-2.5zM619.3 70.3h4.5v0.5h-4.5zM625.3 70.3h5.5v0.5h-5.5zM632.3 70.3h2.5v0.5h-2.5zM618.8 70.8h5v0.5h-5zM624.8 70.8h10.5v0.5h-10.5zM618.3 71.3h17v0.5h-17zM618.8 71.8h2.5v0.5h-2.5zM621.8 71.8h13.5v0.5h-13.5zM619.8 72.3h1v0.5h-1zM622.3 72.3h12v0.5h-12zM622.8 72.8h11v0.5h-11zM623.3 73.3h10v0.5h-10zM625.3 73.8h4.5v0.5h-4.5zM630.8 73.8h4v0.5h-4zM625.3 74.3h4v0.5h-4zM632.3 74.3h3.5v0.5h-3.5zM625.8 74.8h0.5v0.5h-0.5zM627.3 74.8h2v0.5h-2zM631.3 74.8h4.5v0.5h-4.5zM627.8 75.3h2v0.5h-2zM630.8 75.3h5v0.5h-5zM627.3 75.8h8.5v0.5h-8.5zM626.8 76.3h8.5v0.5h-8.5zM626.8 76.8h8v0.5h-8zM626.8 77.3h7.5v0.5h-7.5zM626.8 77.8h2v0.5h-2zM629.3 77.8h5v0.5h-5zM626.8 78.3h1.5v0.5h-1.5zM629.3 78.3h4v0.5h-4zM626.8 78.8h2v0.5h-2zM629.3 78.8h3.5v0.5h-3.5zM627.3 79.3h1.5v0.5h-1.5z" fill="#0c0cff"/>
<rect x="600.2" y="32.2" width="1.6" height="1.2" fill="#0c0cff"/>
<rect x="603.5" y="25.5" width="1.0" height="1.0" fill="#0c0cff"/>
<rect x="613.3" y="23.4" width="0.8" height="0.8" fill="#0c0cff"/>
<rect x="605.5" y="40.5" width="0.9" height="0.9" fill="#0c0cff"/>
<rect x="607.5" y="39.5" width="0.9" height="0.9" fill="#0c0cff"/>
<rect x="632.2" y="51.9" width="1.0" height="1.0" fill="#0c0cff"/>
<rect x="634.5" y="55.3" width="1.0" height="1.0" fill="#0c0cff"/>
<rect x="589.6" y="30.6" width="0.8" height="0.8" fill="#0c0cff"/>
<rect x="596.6" y="34.6" width="0.8" height="0.8" fill="#0c0cff"/>
<path d="M386.4 142.6h1.5v0.5h-1.5zM386.4 143.1h1.5v0.5h-1.5zM386.4 143.6h2v0.5h-2zM386.9 144.1h4v0.5h-4zM386.9 144.6h4v0.5h-4zM388.4 145.1h2v0.5h-2zM413.4 145.1h1v0.5h-1zM388.9 145.6h1v0.5h-1zM413.4 145.6h1v0.5h-1zM414.4 146.6h1v0.5h-1zM414.4 147.1h1v0.5h-1zM414.4 147.6h1.5v0.5h-1.5zM411.9 148.1h1.5v0.5h-1.5zM414.4 148.1h1v0.5h-1zM393.4 148.6h1v0.5h-1zM411.4 148.6h1.5v0.5h-1.5zM392.9 149.1h2v0.5h-2zM392.9 149.6h2v0.5h-2zM397.9 149.6h1.5v0.5h-1.5zM401.4 149.6h1v0.5h-1zM393.9 150.1h1v0.5h-1zM397.9 150.1h1v0.5h-1zM401.9 150.1h1v0.5h-1zM394.4 150.6h1v0.5h-1zM397.9 150.6h1v0.5h-1zM401.9 150.6h1.5v0.5h-1.5zM412.9 150.6h0.5v0.5h-0.5zM413.9 150.6h2v0.5h-2zM394.4 151.1h1v0.5h-1zM401.9 151.1h1.5v0.5h-1.5zM412.9 151.1h0.5v0.5h-0.5zM413.9 151.1h2v0.5h-2zM394.4 151.6h1v0.5h-1zM401.4 151.6h2v0.5h-2zM414.4 151.6h1.5v0.5h-1.5zM370.9 152.1h1v0.5h-1zM401.4 152.1h2v0.5h-2zM407.4 152.1h1v0.5h-1zM414.9 152.1h0.5v0.5h-0.5zM398.9 152.6h4.5v0.5h-4.5zM407.4 152.6h1v0.5h-1zM414.9 152.6h0.5v0.5h-0.5zM395.9 153.1h0.5v0.5h-0.5zM398.9 153.1h5v0.5h-5zM407.9 153.1h1v0.5h-1zM371.4 153.6h1v0.5h-1zM395.9 153.6h0.5v0.5h-0.5zM398.9 153.6h2.5v0.5h-2.5zM401.9 153.6h1.5v0.5h-1.5zM407.9 153.6h2v0.5h-2zM371.4 154.1h1v0.5h-1zM398.9 154.1h4v0.5h-4zM407.9 154.1h2v0.5h-2zM371.4 154.6h1v0.5h-1zM398.9 154.6h4v0.5h-4zM407.9 154.6h1.5v0.5h-1.5zM410.9 154.6h3v0.5h-3zM397.9 155.1h5v0.5h-5zM407.9 155.1h1v0.5h-1zM410.9 155.1h3.5v0.5h-3.5zM397.9 155.6h6v0.5h-6zM407.9 155.6h1v0.5h-1zM410.9 155.6h3.5v0.5h-3.5zM397.9 156.1h6.5v0.5h-6.5zM410.9 156.1h3.5v0.5h-3.5zM375.9 156.6h0.5v0.5h-0.5zM398.9 156.6h5.5v0.5h-5.5zM411.4 156.6h3.5v0.5h-3.5zM373.9 157.1h4.5v0.5h-4.5zM398.9 157.1h5.5v0.5h-5.5zM411.4 157.1h3.5v0.5h-3.5zM374.4 157.6h4v0.5h-4zM398.4 157.6h3.5v0.5h-3.5zM402.9 157.6h1.5v0.5h-1.5zM411.4 157.6h3.5v0.5h-3.5zM416.4 157.6h2.5v0.5h-2.5zM375.9 158.1h2v0.5h-2zM395.4 158.1h1v0.5h-1zM398.4 158.1h1v0.5h-1zM403.9 158.1h0.5v0.5h-0.5zM407.9 158.1h1.5v0.5h-1.5zM410.9 158.1h3.5v0.5h-3.5zM415.9 158.1h3v0.5h-3zM421.9 158.1h1.5v0.5h-1.5zM376.4 158.6h0.5v0.5h-0.5zM403.9 158.6h0.5v0.5h-0.5zM408.4 158.6h1.5v0.5h-1.5zM410.4 158.6h3.5v0.5h-3.5zM414.4 158.6h4v0.5h-4zM421.4 158.6h2v0.5h-2zM403.4 159.1h1.5v0.5h-1.5zM408.9 159.1h0.5v0.5h-0.5zM410.9 159.1h3v0.5h-3zM414.4 159.1h3.5v0.5h-3.5zM420.4 159.1h3v0.5h-3zM403.4 159.6h1.5v0.5h-1.5zM410.9 159.6h3v0.5h-3zM414.9 159.6h3v0.5h-3zM419.4 159.6h4v0.5h-4zM403.4 160.1h1v0.5h-1zM410.9 160.1h2.5v0.5h-2.5zM415.4 160.1h7.5v0.5h-7.5zM403.4 160.6h0.5v0.5h-0.5zM410.9 160.6h2.5v0.5h-2.5zM414.9 160.6h8v0.5h-8zM377.4 161.1h0.5v0.5h-0.5zM403.4 161.1h1v0.5h-1zM410.9 161.1h12v0.5h-12zM376.9 161.6h1.5v0.5h-1.5zM380.4 161.6h1v0.5h-1zM382.9 161.6h1v0.5h-1zM384.9 161.6h0.5v0.5h-0.5zM403.4 161.6h1.5v0.5h-1.5zM410.4 161.6h13v0.5h-13zM377.4 162.1h0.5v0.5h-0.5zM379.9 162.1h6v0.5h-6zM404.4 162.1h1v0.5h-1zM409.9 162.1h2v0.5h-2zM412.9 162.1h10.5v0.5h-10.5zM379.4 162.6h6.5v0.5h-6.5zM404.9 162.6h0.5v0.5h-0.5zM409.9 162.6h10v0.5h-10zM420.4 162.6h3v0.5h-3zM378.4 163.1h1v0.5h-1zM381.9 163.1h4v0.5h-4zM409.9 163.1h10v0.5h-10zM420.4 163.1h3v0.5h-3zM378.4 163.6h0.5v0.5h-0.5zM381.9 163.6h2v0.5h-2zM385.9 163.6h0.5v0.5h-0.5zM409.9 163.6h12v0.5h-12zM385.9 164.1h1v0.5h-1zM410.4 164.1h11v0.5h-11zM410.4 164.6h2v0.5h-2zM413.4 164.6h2.5v0.5h-2.5zM416.9 164.6h1.5v0.5h-1.5zM418.9 164.6h2.5v0.5h-2.5zM423.4 164.6h0.5v0.5h-0.5zM410.4 165.1h2v0.5h-2zM413.4 165.1h2.5v0.5h-2.5zM416.9 165.1h1v0.5h-1zM419.4 165.1h2v0.5h-2zM423.4 165.1h0.5v0.5h-0.5zM372.9 165.6h1v0.5h-1zM378.9 165.6h0.5v0.5h-0.5zM410.4 165.6h7.5v0.5h-7.5zM419.4 165.6h2v0.5h-2zM423.4 165.6h0.5v0.5h-0.5zM368.9 166.1h2v0.5h-2zM373.4 166.1h1v0.5h-1zM378.9 166.1h1v0.5h-1zM409.9 166.1h8v0.5h-8zM419.4 166.1h2v0.5h-2zM367.9 166.6h3.5v0.5h-3.5zM374.4 166.6h1.5v0.5h-1.5zM378.4 166.6h1.5v0.5h-1.5zM410.4 166.6h2v0.5h-2zM412.9 166.6h5.5v0.5h-5.5zM419.4 166.6h4v0.5h-4zM367.4 167.1h4v0.5h-4zM374.4 167.1h1.5v0.5h-1.5zM378.4 167.1h2v0.5h-2zM410.9 167.1h1v0.5h-1zM412.9 167.1h10.5v0.5h-10.5zM367.9 167.6h3.5v0.5h-3.5zM374.9 167.6h1v0.5h-1zM377.9 167.6h3.5v0.5h-3.5zM412.9 167.6h10.5v0.5h-10.5zM368.4 168.1h1v0.5h-1zM377.4 168.1h4.5v0.5h-4.5zM412.9 168.1h8.5v0.5h-8.5zM422.4 168.1h0.5v0.5h-0.5zM377.4 168.6h5v0.5h-5zM397.4 168.6h0.5v0.5h-0.5zM412.9 168.6h6v0.5h-6zM377.4 169.1h1.5v0.5h-1.5zM379.4 169.1h3v0.5h-3zM395.4 169.1h3.5v0.5h-3.5zM412.9 169.1h6v0.5h-6zM378.9 169.6h3.5v0.5h-3.5zM389.4 169.6h0.5v0.5h-0.5zM391.9 169.6h7v0.5h-7zM415.4 169.6h3.5v0.5h-3.5zM378.9 170.1h3.5v0.5h-3.5zM388.9 170.1h10v0.5h-10zM412.9 170.1h0.5v0.5h-0.5zM416.9 170.1h2v0.5h-2zM379.4 170.6h3v0.5h-3zM388.9 170.6h10v0.5h-10zM417.4 170.6h1v0.5h-1zM379.4 171.1h3v0.5h-3zM384.9 171.1h0.5v0.5h-0.5zM385.9 171.1h1.5v0.5h-1.5zM388.9 171.1h1.5v0.5h-1.5zM391.4 171.1h8v0.5h-8zM384.4 171.6h0.5v0.5h-0.5zM385.9 171.6h2v0.5h-2zM389.4 171.6h0.5v0.5h-0.5zM390.9 171.6h8.5v0.5h-8.5zM382.9 172.1h2v0.5h-2zM386.4 172.1h1.5v0.5h-1.5zM389.4 172.1h10v0.5h-10zM380.9 172.6h0.5v0.5h-0.5zM382.4 172.6h2.5v0.5h-2.5zM386.9 172.6h0.5v0.5h-0.5zM389.4 172.6h10v0.5h-10zM380.9 173.1h0.5v0.5h-0.5zM382.4 173.1h3v0.5h-3zM389.4 173.1h6.5v0.5h-6.5zM396.9 173.1h2.5v0.5h-2.5zM382.9 173.6h1.5v0.5h-1.5zM389.4 173.6h5.5v0.5h-5.5zM397.9 173.6h2v0.5h-2zM389.9 174.1h2v0.5h-2zM393.4 174.1h1.5v0.5h-1.5zM397.9 174.1h2.5v0.5h-2.5zM390.9 174.6h1v0.5h-1zM393.9 174.6h0.5v0.5h-0.5zM397.9 174.6h3v0.5h-3zM396.9 175.1h4.5v0.5h-4.5zM396.4 175.6h3v0.5h-3zM399.9 175.6h2v0.5h-2zM396.9 176.1h2v0.5h-2zM399.9 176.1h1.5v0.5h-1.5zM397.4 176.6h1v0.5h-1zM399.9 176.6h1.5v0.5h-1.5zM397.9 177.1h0.5v0.5h-0.5zM399.9 177.1h1.5v0.5h-1.5zM397.9 177.6h0.5v0.5h-0.5zM399.9 177.6h1.5v0.5h-1.5zM397.9 178.1h4.5v0.5h-4.5zM398.4 178.6h4v0.5h-4zM398.4 179.1h4v0.5h-4zM397.9 179.6h4v0.5h-4zM397.9 180.1h4v0.5h-4zM397.9 180.6h1v0.5h-1zM400.4 180.6h2v0.5h-2zM402.9 180.6h1v0.5h-1zM400.4 181.1h4v0.5h-4zM400.4 181.6h3.5v0.5h-3.5zM400.4 182.1h3v0.5h-3zM399.9 182.6h3v0.5h-3zM400.4 183.1h2.5v0.5h-2.5zM400.4 183.6h2.5v0.5h-2.5zM406.4 183.6h2.5v0.5h-2.5zM400.9 184.1h0.5v0.5h-0.5zM406.4 184.1h2.5v0.5h-2.5zM402.4 184.6h1v0.5h-1zM406.4 184.6h2v0.5h-2zM409.9 184.6h2v0.5h-2zM402.4 185.1h2.5v0.5h-2.5zM406.4 185.1h1.5v0.5h-1.5zM409.9 185.1h2.5v0.5h-2.5zM402.4 185.6h2.5v0.5h-2.5zM406.4 185.6h2v0.5h-2zM409.9 185.6h1.5v0.5h-1.5zM402.4 186.1h2.5v0.5h-2.5zM406.4 186.1h2.5v0.5h-2.5zM402.4 186.6h2v0.5h-2zM406.9 186.6h2.5v0.5h-2.5zM410.9 186.6h0.5v0.5h-0.5zM402.4 187.1h3v0.5h-3zM406.4 187.1h5.5v0.5h-5.5zM402.9 187.6h9.5v0.5h-9.5zM403.4 188.1h9.5v0.5h-9.5zM403.4 188.6h9v0.5h-9zM403.4 189.1h3.5v0.5h-3.5zM407.4 189.1h5v0.5h-5zM403.4 189.6h3v0.5h-3zM407.9 189.6h4v0.5h-4zM403.9 190.1h3v0.5h-3zM408.4 190.1h3.5v0.5h-3.5zM414.9 190.1h1v0.5h-1zM403.9 190.6h3.5v0.5h-3.5zM408.9 190.6h3.5v0.5h-3.5zM414.4 190.6h2v0.5h-2zM404.4 191.1h3v0.5h-3zM408.9 191.1h3.5v0.5h-3.5zM413.9 191.1h2.5v0.5h-2.5zM404.9 191.6h7.5v0.5h-7.5zM413.4 191.6h3v0.5h-3zM406.4 192.1h3.5v0.5h-3.5zM410.4 192.1h2v0.5h-2zM413.4 192.1h2v0.5h-2zM406.4 192.6h3.5v0.5h-3.5zM410.9 192.6h1.5v0.5h-1.5zM413.4 192.6h1v0.5h-1zM406.9 193.1h3v0.5h-3zM410.9 193.1h3v0.5h-3zM406.4 193.6h8v0.5h-8zM405.9 194.1h6.5v0.5h-6.5zM413.4 194.1h1.5v0.5h-1.5zM405.9 194.6h6.5v0.5h-6.5zM413.4 194.6h1.5v0.5h-1.5zM416.9 194.6h0.5v0.5h-0.5zM406.4 195.1h6v0.5h-6zM413.9 195.1h1.5v0.5h-1.5zM415.9 195.1h1.5v0.5h-1.5zM407.4 195.6h5v0.5h-5zM414.9 195.6h2.5v0.5h-2.5zM407.9 196.1h3.5v0.5h-3.5zM415.4 196.1h1v0.5h-1zM408.4 196.6h2v0.5h-2zM408.9 197.1h1v0.5h-1zM411.4 198.1h1v0.5h-1zM414.9 198.1h0.5v0.5h-0.5zM410.9 198.6h2v0.5h-2zM414.4 198.6h1.5v0.5h-1.5zM410.4 199.1h2.5v0.5h-2.5zM414.4 199.1h1.5v0.5h-1.5zM410.4 199.6h2v0.5h-2zM414.4 199.6h1v0.5h-1zM416.4 199.6h0.5v0.5h-0.5zM410.4 200.1h2v0.5h-2zM416.4 200.1h1v0.5h-1zM409.9 200.6h3v0.5h-3zM416.4 200.6h1v0.5h-1zM409.9 201.1h3.5v0.5h-3.5zM410.4 201.6h3.5v0.5h-3.5zM410.9 202.1h3.5v0.5h-3.5zM411.4 202.6h2.5v0.5h-2.5zM411.4 203.1h2.5v0.5h-2.5zM411.4 203.6h2.5v0.5h-2.5zM410.9 204.1h3v0.5h-3zM410.4 204.6h3.5v0.5h-3.5zM410.4 205.1h3.5v0.5h-3.5zM410.9 205.6h2v0.5h-2zM415.9 206.6h0.5v0.5h-0.5zM410.4 207.1h1v0.5h-1zM415.4 207.1h1v0.5h-1zM415.9 207.6h0.5v0.5h-0.5zM411.9 208.6h2.5v0.5h-2.5zM411.9 209.1h2.5v0.5h-2.5zM411.9 209.6h2.5v0.5h-2.5zM412.4 210.1h2.5v0.5h-2.5zM412.4 210.6h2.5v0.5h-2.5zM415.9 210.6h0.5v0.5h-0.5zM412.9 211.1h2v0.5h-2zM412.9 211.6h1.5v0.5h-1.5zM413.4 212.1h1v0.5h-1zM412.9 212.6h1.5v0.5h-1.5zM412.4 213.1h1.5v0.5h-1.5zM412.4 213.6h1v0.5h-1zM416.9 213.6h1v0.5h-1zM414.4 214.1h1.5v0.5h-1.5zM416.4 214.1h2.5v0.5h-2.5zM414.4 214.6h1.5v0.5h-1.5zM416.9 214.6h3v0.5h-3zM414.4 215.1h1.5v0.5h-1.5zM417.4 215.1h3v0.5h-3zM414.9 215.6h0.5v0.5h-0.5zM417.4 215.6h3v0.5h-3zM417.4 216.1h2.5v0.5h-2.5zM417.4 216.6h2v0.5h-2zM415.4 217.1h1.5v0.5h-1.5zM415.4 217.6h1.5v0.5h-1.5zM421.4 217.6h2v0.5h-2zM416.4 218.1h4v0.5h-4zM420.9 218.1h3v0.5h-3zM416.4 218.6h2.5v0.5h-2.5zM419.9 218.6h4v0.5h-4zM416.9 219.1h2v0.5h-2zM419.9 219.1h6v0.5h-6zM416.9 219.6h9.5v0.5h-9.5zM417.9 220.1h8v0.5h-8zM418.4 220.6h7.5v0.5h-7.5zM418.9 221.1h6.5v0.5h-6.5zM418.9 221.6h6.5v0.5h-6.5zM419.4 222.1h6v0.5h-6zM419.9 222.6h5.5v0.5h-5.5zM419.9 223.1h2.5v0.5h-2.5zM422.9 223.1h2v0.5h-2zM419.9 223.6h2v0.5h-2zM423.4 223.6h1.5v0.5h-1.5zM420.4 224.1h1.5v0.5h-1.5zM423.4 224.1h1v0.5h-1zM422.9 224.6h1v0.5h-1zM421.9 225.1h1.5v0.5h-1.5z" fill="#0c0cff"/>
<rect x="352.6" y="149.0" width="1.8" height="0.9" fill="#0c0cff"/>
<rect x="349.6" y="151.6" width="1.4" height="0.9" fill="#0c0cff"/>
<rect x="359.4" y="152.7" width="1.2" height="1.2" fill="#0c0cff"/>
<rect x="370.2" y="147.2" width="1.0" height="1.0" fill="#0c0cff"/>
<rect x="351.8" y="167.2" width="2.2" height="0.9" fill="#0c0cff"/>
<rect x="379.9" y="173.8" width="1.0" height="2.0" fill="#0c0cff"/>
<rect x="383.7" y="178.9" width="1.0" height="2.2" fill="#0c0cff"/>
<rect x="424.8" y="193.0" width="0.9" height="0.9" fill="#0c0cff"/>
<rect x="422.2" y="205.2" width="0.9" height="0.9" fill="#0c0cff"/>
<rect x="421.3" y="174.3" width="1.0" height="1.4" fill="#0c0cff"/>
<rect x="422.1" y="178.1" width="0.9" height="0.9" fill="#0c0cff"/>
<rect x="364.6" y="159.7" width="0.7" height="0.7" fill="#0c0cff"/>
<rect x="379.6" y="146.7" width="0.7" height="0.7" fill="#0c0cff"/>
<rect x="405.6" y="174.6" width="0.8" height="0.8" fill="#0c0cff"/>
<rect x="360.6" y="155.7" width="0.7" height="0.7" fill="#0c0cff"/>
<rect x="421.8" y="174.7" width="1.2" height="1.2" fill="#0c0cff"/>
<rect x="419.4" y="221.4" width="1.2" height="1.2" fill="#0c0cff"/>
<path d="M486.3 141.6h1.5v0.5h-1.5zM486.3 142.1h1.5v0.5h-1.5zM486.3 142.6h1.5v0.5h-1.5zM486.3 143.1h1v0.5h-1zM499.8 144.6h3.5v0.5h-3.5zM500.3 145.1h2.5v0.5h-2.5zM504.8 145.1h1v0.5h-1zM500.3 145.6h2.5v0.5h-2.5zM504.8 145.6h0.5v0.5h-0.5zM500.3 146.1h2.5v0.5h-2.5zM500.8 146.6h1.5v0.5h-1.5zM482.3 148.1h1v0.5h-1zM482.3 148.6h1v0.5h-1zM501.8 148.6h2v0.5h-2zM482.8 149.1h1v0.5h-1zM501.8 149.1h2v0.5h-2zM509.3 149.1h0.5v0.5h-0.5zM482.8 149.6h1.5v0.5h-1.5zM502.3 149.6h1.5v0.5h-1.5zM508.3 149.6h2v0.5h-2zM482.3 150.1h2v0.5h-2zM499.8 150.1h1v0.5h-1zM502.3 150.1h1v0.5h-1zM507.3 150.1h3v0.5h-3zM481.8 150.6h2.5v0.5h-2.5zM507.3 150.6h3v0.5h-3zM481.8 151.1h2v0.5h-2zM506.8 151.1h3.5v0.5h-3.5zM482.3 151.6h2v0.5h-2zM506.8 151.6h4v0.5h-4zM515.8 151.6h1v0.5h-1zM469.8 152.1h2.5v0.5h-2.5zM482.8 152.1h2v0.5h-2zM507.3 152.1h3.5v0.5h-3.5zM515.3 152.1h2v0.5h-2zM470.3 152.6h2.5v0.5h-2.5zM482.8 152.6h1.5v0.5h-1.5zM510.3 152.6h1v0.5h-1zM513.8 152.6h3v0.5h-3zM470.3 153.1h2.5v0.5h-2.5zM482.8 153.1h1.5v0.5h-1.5zM510.8 153.1h0.5v0.5h-0.5zM514.3 153.1h0.5v0.5h-0.5zM483.3 153.6h1v0.5h-1zM483.3 154.1h0.5v0.5h-0.5zM517.8 154.1h1v0.5h-1zM475.8 154.6h1v0.5h-1zM486.8 154.6h0.5v0.5h-0.5zM514.8 154.6h1v0.5h-1zM517.8 154.6h1.5v0.5h-1.5zM475.8 155.1h1.5v0.5h-1.5zM485.3 155.1h2.5v0.5h-2.5zM514.8 155.1h2v0.5h-2zM517.8 155.1h1.5v0.5h-1.5zM475.8 155.6h1.5v0.5h-1.5zM485.3 155.6h2.5v0.5h-2.5zM514.8 155.6h2v0.5h-2zM517.8 155.6h1.5v0.5h-1.5zM486.3 156.1h1.5v0.5h-1.5zM514.8 156.1h4v0.5h-4zM486.8 156.6h1.5v0.5h-1.5zM513.8 156.6h5.5v0.5h-5.5zM486.8 157.1h1.5v0.5h-1.5zM513.8 157.1h5.5v0.5h-5.5zM486.8 157.6h1.5v0.5h-1.5zM490.3 157.6h0.5v0.5h-0.5zM514.8 157.6h4.5v0.5h-4.5zM486.8 158.1h1v0.5h-1zM490.3 158.1h0.5v0.5h-0.5zM515.3 158.1h3.5v0.5h-3.5zM489.8 158.6h1.5v0.5h-1.5zM515.3 158.6h1.5v0.5h-1.5zM489.3 159.1h2v0.5h-2zM515.3 159.1h1.5v0.5h-1.5zM489.3 159.6h2v0.5h-2zM515.3 159.6h2v0.5h-2zM489.8 160.1h1.5v0.5h-1.5zM515.3 160.1h2v0.5h-2zM515.8 160.6h1.5v0.5h-1.5zM526.3 160.6h4.5v0.5h-4.5zM490.8 161.1h0.5v0.5h-0.5zM526.3 161.1h5v0.5h-5zM524.3 161.6h0.5v0.5h-0.5zM526.3 161.6h6.5v0.5h-6.5zM523.8 162.1h9v0.5h-9zM523.8 162.6h4.5v0.5h-4.5zM529.8 162.6h2v0.5h-2zM532.3 162.6h0.5v0.5h-0.5zM523.3 163.1h4v0.5h-4zM529.8 163.1h1.5v0.5h-1.5zM532.3 163.1h1v0.5h-1zM516.3 163.6h0.5v0.5h-0.5zM519.3 163.6h2v0.5h-2zM522.3 163.6h5v0.5h-5zM529.3 163.6h2v0.5h-2zM532.3 163.6h1.5v0.5h-1.5zM515.8 164.1h1.5v0.5h-1.5zM518.8 164.1h12v0.5h-12zM532.3 164.1h2v0.5h-2zM515.8 164.6h1.5v0.5h-1.5zM517.8 164.6h12.5v0.5h-12.5zM532.3 164.6h2v0.5h-2zM504.3 165.1h0.5v0.5h-0.5zM516.3 165.1h6.5v0.5h-6.5zM523.8 165.1h1.5v0.5h-1.5zM525.8 165.1h1v0.5h-1zM527.8 165.1h0.5v0.5h-0.5zM529.3 165.1h1.5v0.5h-1.5zM532.3 165.1h2v0.5h-2zM479.3 165.6h1v0.5h-1zM481.3 165.6h0.5v0.5h-0.5zM501.8 165.6h1v0.5h-1zM503.8 165.6h1v0.5h-1zM516.3 165.6h4v0.5h-4zM522.3 165.6h0.5v0.5h-0.5zM531.3 165.6h3v0.5h-3zM479.3 166.1h2.5v0.5h-2.5zM501.3 166.1h1.5v0.5h-1.5zM503.8 166.1h1v0.5h-1zM516.3 166.1h4v0.5h-4zM521.8 166.1h2.5v0.5h-2.5zM526.8 166.1h0.5v0.5h-0.5zM531.3 166.1h3v0.5h-3zM476.3 166.6h1.5v0.5h-1.5zM479.3 166.6h1.5v0.5h-1.5zM490.8 166.6h2v0.5h-2zM500.8 166.6h2v0.5h-2zM505.8 166.6h0.5v0.5h-0.5zM516.3 166.6h1v0.5h-1zM518.3 166.6h1.5v0.5h-1.5zM521.8 166.6h2.5v0.5h-2.5zM530.3 166.6h3.5v0.5h-3.5zM476.3 167.1h1.5v0.5h-1.5zM478.8 167.1h1.5v0.5h-1.5zM487.8 167.1h1v0.5h-1zM490.3 167.1h4v0.5h-4zM495.3 167.1h4v0.5h-4zM500.8 167.1h2v0.5h-2zM505.3 167.1h1v0.5h-1zM518.3 167.1h1.5v0.5h-1.5zM521.8 167.1h3v0.5h-3zM529.8 167.1h4.5v0.5h-4.5zM476.3 167.6h1.5v0.5h-1.5zM487.3 167.6h4v0.5h-4zM492.3 167.6h7v0.5h-7zM501.8 167.6h1.5v0.5h-1.5zM505.3 167.6h1v0.5h-1zM518.3 167.6h1.5v0.5h-1.5zM521.8 167.6h1.5v0.5h-1.5zM523.8 167.6h2.5v0.5h-2.5zM527.3 167.6h1v0.5h-1zM529.8 167.6h4.5v0.5h-4.5zM476.3 168.1h1.5v0.5h-1.5zM487.3 168.1h4v0.5h-4zM492.8 168.1h6.5v0.5h-6.5zM501.8 168.1h1v0.5h-1zM505.3 168.1h1.5v0.5h-1.5zM517.3 168.1h1.5v0.5h-1.5zM521.3 168.1h1.5v0.5h-1.5zM524.3 168.1h5v0.5h-5zM531.8 168.1h2.5v0.5h-2.5zM487.3 168.6h4v0.5h-4zM493.3 168.6h6.5v0.5h-6.5zM505.3 168.6h1.5v0.5h-1.5zM517.3 168.6h1v0.5h-1zM521.3 168.6h2v0.5h-2zM524.3 168.6h5v0.5h-5zM531.3 168.6h3v0.5h-3zM484.3 169.1h2v0.5h-2zM487.8 169.1h3v0.5h-3zM495.3 169.1h2v0.5h-2zM498.3 169.1h1.5v0.5h-1.5zM504.8 169.1h2v0.5h-2zM517.3 169.1h1.5v0.5h-1.5zM521.3 169.1h2.5v0.5h-2.5zM525.8 169.1h3.5v0.5h-3.5zM531.3 169.1h2v0.5h-2zM484.3 169.6h2v0.5h-2zM488.3 169.6h2v0.5h-2zM493.3 169.6h0.5v0.5h-0.5zM495.3 169.6h1.5v0.5h-1.5zM498.8 169.6h1v0.5h-1zM504.3 169.6h2.5v0.5h-2.5zM516.8 169.6h2v0.5h-2zM521.3 169.6h3v0.5h-3zM526.3 169.6h3v0.5h-3zM531.3 169.6h1.5v0.5h-1.5zM484.3 170.1h2v0.5h-2zM488.3 170.1h2.5v0.5h-2.5zM492.8 170.1h1.5v0.5h-1.5zM495.3 170.1h1.5v0.5h-1.5zM499.8 170.1h0.5v0.5h-0.5zM504.3 170.1h2.5v0.5h-2.5zM516.8 170.1h2v0.5h-2zM521.3 170.1h3v0.5h-3zM526.3 170.1h3v0.5h-3zM531.3 170.1h1.5v0.5h-1.5zM484.3 170.6h2.5v0.5h-2.5zM488.8 170.6h3v0.5h-3zM492.8 170.6h1.5v0.5h-1.5zM494.8 170.6h3.5v0.5h-3.5zM504.3 170.6h2v0.5h-2zM521.3 170.6h2v0.5h-2zM525.8 170.6h3v0.5h-3zM531.3 170.6h1.5v0.5h-1.5zM484.8 171.1h3v0.5h-3zM488.8 171.1h4.5v0.5h-4.5zM494.8 171.1h1.5v0.5h-1.5zM497.3 171.1h1.5v0.5h-1.5zM503.8 171.1h2v0.5h-2zM521.3 171.1h0.5v0.5h-0.5zM525.3 171.1h3v0.5h-3zM530.8 171.1h2v0.5h-2zM484.8 171.6h8v0.5h-8zM494.8 171.6h1v0.5h-1zM497.3 171.6h2v0.5h-2zM504.3 171.6h1v0.5h-1zM525.3 171.6h3v0.5h-3zM530.8 171.6h1.5v0.5h-1.5zM484.8 172.1h8v0.5h-8zM494.3 172.1h1v0.5h-1zM497.8 172.1h2v0.5h-2zM525.3 172.1h3.5v0.5h-3.5zM530.8 172.1h1.5v0.5h-1.5zM484.8 172.6h8v0.5h-8zM494.3 172.6h0.5v0.5h-0.5zM498.3 172.6h1v0.5h-1zM522.8 172.6h1v0.5h-1zM525.8 172.6h3.5v0.5h-3.5zM530.8 172.6h1.5v0.5h-1.5zM484.3 173.1h8.5v0.5h-8.5zM504.8 173.1h1.5v0.5h-1.5zM522.8 173.1h2v0.5h-2zM525.3 173.1h4v0.5h-4zM531.3 173.1h1v0.5h-1zM484.3 173.6h8.5v0.5h-8.5zM502.8 173.6h5v0.5h-5zM522.8 173.6h6.5v0.5h-6.5zM531.3 173.6h0.5v0.5h-0.5zM484.3 174.1h4.5v0.5h-4.5zM490.3 174.1h3v0.5h-3zM496.3 174.1h1v0.5h-1zM498.8 174.1h0.5v0.5h-0.5zM503.3 174.1h4.5v0.5h-4.5zM508.8 174.1h1v0.5h-1zM523.3 174.1h7.5v0.5h-7.5zM486.3 174.6h2.5v0.5h-2.5zM490.8 174.6h3v0.5h-3zM495.8 174.6h1.5v0.5h-1.5zM498.3 174.6h4.5v0.5h-4.5zM503.8 174.6h6.5v0.5h-6.5zM523.3 174.6h8.5v0.5h-8.5zM486.8 175.1h1.5v0.5h-1.5zM490.8 175.1h3.5v0.5h-3.5zM495.3 175.1h1.5v0.5h-1.5zM498.3 175.1h5v0.5h-5zM504.3 175.1h6v0.5h-6zM511.3 175.1h3.5v0.5h-3.5zM525.8 175.1h2.5v0.5h-2.5zM529.3 175.1h1v0.5h-1zM530.8 175.1h1.5v0.5h-1.5zM487.3 175.6h1v0.5h-1zM490.8 175.6h6v0.5h-6zM497.8 175.6h5v0.5h-5zM504.3 175.6h10v0.5h-10zM531.3 175.6h1v0.5h-1zM490.8 176.1h5.5v0.5h-5.5zM497.3 176.1h5.5v0.5h-5.5zM504.3 176.1h9.5v0.5h-9.5zM489.8 176.6h1.5v0.5h-1.5zM493.8 176.6h2v0.5h-2zM497.3 176.6h5.5v0.5h-5.5zM503.8 176.6h10v0.5h-10zM489.3 177.1h1.5v0.5h-1.5zM494.8 177.1h0.5v0.5h-0.5zM497.8 177.1h4.5v0.5h-4.5zM503.3 177.1h3v0.5h-3zM506.8 177.1h7v0.5h-7zM489.8 177.6h0.5v0.5h-0.5zM497.3 177.6h3v0.5h-3zM500.8 177.6h4.5v0.5h-4.5zM507.8 177.6h6.5v0.5h-6.5zM497.3 178.1h7v0.5h-7zM507.8 178.1h7v0.5h-7zM496.8 178.6h8.5v0.5h-8.5zM507.8 178.6h9v0.5h-9zM496.3 179.1h10v0.5h-10zM507.3 179.1h9.5v0.5h-9.5zM496.3 179.6h10v0.5h-10zM507.8 179.6h9.5v0.5h-9.5zM496.3 180.1h4v0.5h-4zM501.3 180.1h2.5v0.5h-2.5zM504.3 180.1h4v0.5h-4zM510.3 180.1h8.5v0.5h-8.5zM495.8 180.6h4.5v0.5h-4.5zM501.8 180.6h1.5v0.5h-1.5zM504.3 180.6h4.5v0.5h-4.5zM510.8 180.6h8.5v0.5h-8.5zM496.3 181.1h4v0.5h-4zM501.8 181.1h1.5v0.5h-1.5zM504.3 181.1h15v0.5h-15zM496.8 181.6h3.5v0.5h-3.5zM501.3 181.6h10.5v0.5h-10.5zM513.3 181.6h6v0.5h-6zM496.3 182.1h4v0.5h-4zM501.3 182.1h11.5v0.5h-11.5zM513.8 182.1h5v0.5h-5zM496.3 182.6h4v0.5h-4zM500.8 182.6h17.5v0.5h-17.5zM520.8 182.6h0.5v0.5h-0.5zM496.8 183.1h3.5v0.5h-3.5zM501.3 183.1h7v0.5h-7zM508.8 183.1h9.5v0.5h-9.5zM497.8 183.6h3v0.5h-3zM501.3 183.6h6.5v0.5h-6.5zM508.3 183.6h9.5v0.5h-9.5zM498.3 184.1h2.5v0.5h-2.5zM501.8 184.1h16v0.5h-16zM498.3 184.6h2.5v0.5h-2.5zM501.8 184.6h10.5v0.5h-10.5zM514.3 184.6h3.5v0.5h-3.5zM518.8 184.6h1.5v0.5h-1.5zM498.8 185.1h1.5v0.5h-1.5zM501.8 185.1h10.5v0.5h-10.5zM514.3 185.1h6.5v0.5h-6.5zM499.3 185.6h0.5v0.5h-0.5zM502.3 185.6h10v0.5h-10zM514.8 185.6h5.5v0.5h-5.5zM501.3 186.1h12v0.5h-12zM514.8 186.1h4.5v0.5h-4.5zM520.8 186.1h1v0.5h-1zM500.8 186.6h12.5v0.5h-12.5zM515.3 186.6h4v0.5h-4zM520.3 186.6h1.5v0.5h-1.5zM499.3 187.1h0.5v0.5h-0.5zM500.3 187.1h9v0.5h-9zM509.8 187.1h3v0.5h-3zM515.3 187.1h4v0.5h-4zM519.8 187.1h2v0.5h-2zM499.3 187.6h8v0.5h-8zM508.3 187.6h0.5v0.5h-0.5zM509.3 187.6h3v0.5h-3zM515.3 187.6h6.5v0.5h-6.5zM499.3 188.1h3v0.5h-3zM504.8 188.1h2v0.5h-2zM508.8 188.1h3v0.5h-3zM513.8 188.1h7v0.5h-7zM499.8 188.6h2.5v0.5h-2.5zM503.8 188.6h3v0.5h-3zM508.8 188.6h2.5v0.5h-2.5zM513.8 188.6h6v0.5h-6zM500.3 189.1h1.5v0.5h-1.5zM503.3 189.1h3.5v0.5h-3.5zM508.8 189.1h2.5v0.5h-2.5zM512.8 189.1h6.5v0.5h-6.5zM501.3 189.6h0.5v0.5h-0.5zM502.8 189.6h3.5v0.5h-3.5zM508.8 189.6h2v0.5h-2zM512.8 189.6h4.5v0.5h-4.5zM501.3 190.1h6v0.5h-6zM507.8 190.1h3v0.5h-3zM512.8 190.1h4.5v0.5h-4.5zM501.3 190.6h10v0.5h-10zM511.8 190.6h5.5v0.5h-5.5zM501.8 191.1h15.5v0.5h-15.5zM502.3 191.6h1v0.5h-1zM504.3 191.6h10.5v0.5h-10.5zM515.3 191.6h2.5v0.5h-2.5zM504.8 192.1h9.5v0.5h-9.5zM515.3 192.1h2.5v0.5h-2.5zM505.3 192.6h9.5v0.5h-9.5zM515.3 192.6h2.5v0.5h-2.5zM508.8 193.1h8.5v0.5h-8.5zM508.8 193.6h8.5v0.5h-8.5zM509.3 194.1h9v0.5h-9zM511.3 194.6h7.5v0.5h-7.5zM511.3 195.1h7v0.5h-7zM520.8 195.1h1v0.5h-1zM511.3 195.6h7v0.5h-7zM520.3 195.6h1.5v0.5h-1.5zM510.8 196.1h8v0.5h-8zM520.3 196.1h2.5v0.5h-2.5zM510.8 196.6h12.5v0.5h-12.5zM510.3 197.1h7v0.5h-7zM518.3 197.1h5v0.5h-5zM510.3 197.6h7v0.5h-7zM517.8 197.6h6v0.5h-6zM510.8 198.1h13v0.5h-13zM511.8 198.6h11.5v0.5h-11.5zM511.8 199.1h11.5v0.5h-11.5zM511.8 199.6h6.5v0.5h-6.5zM518.8 199.6h4v0.5h-4zM512.3 200.1h5v0.5h-5zM519.3 200.1h3.5v0.5h-3.5zM513.3 200.6h3.5v0.5h-3.5zM519.8 200.6h2.5v0.5h-2.5zM513.8 201.1h3v0.5h-3zM519.8 201.1h2.5v0.5h-2.5zM514.3 201.6h2.5v0.5h-2.5zM519.3 201.6h3v0.5h-3zM515.8 202.1h1v0.5h-1zM519.3 202.1h3v0.5h-3zM516.3 202.6h0.5v0.5h-0.5zM519.8 202.6h2.5v0.5h-2.5zM520.8 203.1h1v0.5h-1zM516.3 203.6h1.5v0.5h-1.5zM525.8 203.6h0.5v0.5h-0.5zM515.8 204.1h3v0.5h-3zM521.8 204.1h0.5v0.5h-0.5zM525.3 204.1h2v0.5h-2zM515.3 204.6h3.5v0.5h-3.5zM521.3 204.6h1.5v0.5h-1.5zM524.8 204.6h2.5v0.5h-2.5zM512.8 205.1h1v0.5h-1zM515.8 205.1h2.5v0.5h-2.5zM521.3 205.1h2v0.5h-2zM524.3 205.1h3v0.5h-3zM512.3 205.6h2v0.5h-2zM517.3 205.6h1v0.5h-1zM521.3 205.6h2v0.5h-2zM524.3 205.6h2.5v0.5h-2.5zM512.3 206.1h3v0.5h-3zM517.8 206.1h1.5v0.5h-1.5zM521.3 206.1h2.5v0.5h-2.5zM524.3 206.1h1.5v0.5h-1.5zM512.8 206.6h3v0.5h-3zM517.8 206.6h2v0.5h-2zM521.8 206.6h2v0.5h-2zM514.3 207.1h1.5v0.5h-1.5zM517.8 207.1h3v0.5h-3zM521.8 207.1h1.5v0.5h-1.5zM514.3 207.6h2v0.5h-2zM519.8 207.6h1v0.5h-1zM527.3 207.6h1v0.5h-1zM513.8 208.1h3v0.5h-3zM520.3 208.1h0.5v0.5h-0.5zM526.8 208.1h2v0.5h-2zM511.8 208.6h4.5v0.5h-4.5zM520.3 208.6h0.5v0.5h-0.5zM527.3 208.6h2v0.5h-2zM511.8 209.1h2v0.5h-2zM514.8 209.1h1.5v0.5h-1.5zM519.3 209.1h1.5v0.5h-1.5zM523.8 209.1h1.5v0.5h-1.5zM526.8 209.1h2.5v0.5h-2.5zM511.8 209.6h1.5v0.5h-1.5zM515.3 209.6h2.5v0.5h-2.5zM518.8 209.6h2v0.5h-2zM523.8 209.6h1.5v0.5h-1.5zM526.8 209.6h2.5v0.5h-2.5zM512.3 210.1h1.5v0.5h-1.5zM514.3 210.1h4v0.5h-4zM518.8 210.1h2v0.5h-2zM523.8 210.1h1.5v0.5h-1.5zM526.8 210.1h2.5v0.5h-2.5zM512.3 210.6h5.5v0.5h-5.5zM518.8 210.6h1.5v0.5h-1.5zM523.3 210.6h1.5v0.5h-1.5zM526.3 210.6h2.5v0.5h-2.5zM512.8 211.1h4.5v0.5h-4.5zM518.8 211.1h1.5v0.5h-1.5zM522.8 211.1h2v0.5h-2zM526.3 211.1h2v0.5h-2zM513.3 211.6h2.5v0.5h-2.5zM522.8 211.6h2v0.5h-2zM525.8 211.6h2.5v0.5h-2.5zM522.3 212.1h6v0.5h-6zM522.3 212.6h6v0.5h-6zM522.8 213.1h1.5v0.5h-1.5zM524.8 213.1h3.5v0.5h-3.5zM522.8 213.6h1v0.5h-1zM526.3 213.6h2v0.5h-2zM533.8 215.6h0.5v0.5h-0.5zM526.3 216.1h2v0.5h-2zM532.8 216.1h1.5v0.5h-1.5zM522.3 216.6h2v0.5h-2zM526.3 216.6h3.5v0.5h-3.5zM531.3 216.6h3v0.5h-3zM521.8 217.1h3v0.5h-3zM525.8 217.1h5v0.5h-5zM531.3 217.1h3v0.5h-3zM522.3 217.6h8.5v0.5h-8.5zM531.3 217.6h2.5v0.5h-2.5zM522.3 218.1h2v0.5h-2zM524.8 218.1h9v0.5h-9zM522.3 218.6h1.5v0.5h-1.5zM524.8 218.6h9v0.5h-9zM522.3 219.1h1.5v0.5h-1.5zM527.3 219.1h2v0.5h-2zM529.8 219.1h4v0.5h-4zM521.8 219.6h2.5v0.5h-2.5zM527.3 219.6h1.5v0.5h-1.5zM531.8 219.6h2v0.5h-2zM521.8 220.1h4v0.5h-4zM527.3 220.1h1v0.5h-1zM531.8 220.1h2v0.5h-2zM521.8 220.6h4v0.5h-4zM531.3 220.6h2.5v0.5h-2.5zM521.8 221.1h4.5v0.5h-4.5zM530.8 221.1h3.5v0.5h-3.5zM522.3 221.6h5v0.5h-5zM530.3 221.6h4v0.5h-4zM522.3 222.1h2v0.5h-2zM525.3 222.1h2v0.5h-2zM530.3 222.1h4v0.5h-4zM521.8 222.6h1v0.5h-1zM525.8 222.6h1.5v0.5h-1.5zM530.8 222.6h3.5v0.5h-3.5zM521.8 223.1h1v0.5h-1zM525.3 223.1h4.5v0.5h-4.5zM530.8 223.1h3.5v0.5h-3.5zM523.8 223.6h6v0.5h-6zM531.3 223.6h3v0.5h-3zM523.8 224.1h6v0.5h-6zM530.8 224.1h3.5v0.5h-3.5zM523.8 224.6h6v0.5h-6zM530.8 224.6h2.5v0.5h-2.5zM523.8 225.1h8.5v0.5h-8.5zM523.8 225.6h4v0.5h-4zM528.8 225.6h3v0.5h-3zM523.8 226.1h2v0.5h-2zM529.3 226.1h2v0.5h-2zM523.8 226.6h1.5v0.5h-1.5zM523.8 227.1h1.5v0.5h-1.5zM523.8 227.6h2v0.5h-2zM527.3 227.6h2.5v0.5h-2.5zM524.3 228.1h1v0.5h-1zM526.8 228.1h3.5v0.5h-3.5zM526.3 228.6h3.5v0.5h-3.5zM526.3 229.1h3.5v0.5h-3.5zM526.8 229.6h3v0.5h-3z" fill="#0c0cff"/>
<rect x="494.9" y="142.5" width="2.2" height="1.0" fill="#0c0cff"/>
<rect x="497.2" y="146.7" width="1.0" height="1.0" fill="#0c0cff"/>
<rect x="465.3" y="154.4" width="2.2" height="1.1" fill="#0c0cff"/>
<rect x="470.4" y="165.0" width="2.8" height="1.1" fill="#0c0cff"/>
<rect x="528.2" y="202.8" width="0.9" height="0.9" fill="#0c0cff"/>
<rect x="527.6" y="197.9" width="0.9" height="0.9" fill="#0c0cff"/>
<rect x="477.6" y="159.7" width="0.7" height="0.7" fill="#0c0cff"/>
<rect x="491.6" y="161.7" width="0.7" height="0.7" fill="#0c0cff"/>
<rect x="505.6" y="159.7" width="0.7" height="0.7" fill="#0c0cff"/>
<rect x="497.6" y="156.7" width="0.7" height="0.7" fill="#0c0cff"/>
<rect x="459.6" y="169.7" width="0.7" height="0.7" fill="#0c0cff"/>
<rect x="461.6" y="174.7" width="0.7" height="0.7" fill="#0c0cff"/>
<path d="M594.8 140.1h1v0.5h-1zM600.3 140.1h1.5v0.5h-1.5zM594.8 140.6h1v0.5h-1zM599.8 140.6h1v0.5h-1zM595.3 141.1h1v0.5h-1zM598.8 141.1h2v0.5h-2zM595.3 141.6h2v0.5h-2zM598.8 141.6h1.5v0.5h-1.5zM595.8 142.1h1v0.5h-1zM598.8 142.1h2v0.5h-2zM595.8 142.6h1v0.5h-1zM599.3 142.6h1v0.5h-1zM608.3 147.6h0.5v0.5h-0.5zM607.8 148.1h1.5v0.5h-1.5zM619.8 148.1h1v0.5h-1zM608.3 148.6h1.5v0.5h-1.5zM610.3 148.6h1v0.5h-1zM619.3 148.6h1.5v0.5h-1.5zM608.3 149.1h3v0.5h-3zM616.8 149.1h3.5v0.5h-3.5zM608.3 149.6h3.5v0.5h-3.5zM616.8 149.6h1v0.5h-1zM618.3 149.6h2v0.5h-2zM608.3 150.1h3.5v0.5h-3.5zM618.8 150.1h1.5v0.5h-1.5zM608.3 150.6h3v0.5h-3zM618.8 150.6h1.5v0.5h-1.5zM608.3 151.1h2v0.5h-2zM618.8 151.1h2v0.5h-2zM619.3 151.6h1.5v0.5h-1.5zM619.8 152.1h1v0.5h-1zM587.8 155.6h1v0.5h-1zM601.3 155.6h0.5v0.5h-0.5zM614.8 155.6h0.5v0.5h-0.5zM587.8 156.1h2v0.5h-2zM600.3 156.1h2.5v0.5h-2.5zM614.3 156.1h2v0.5h-2zM587.3 156.6h2.5v0.5h-2.5zM600.3 156.6h3.5v0.5h-3.5zM614.3 156.6h2v0.5h-2zM586.8 157.1h2.5v0.5h-2.5zM600.3 157.1h4v0.5h-4zM614.3 157.1h2.5v0.5h-2.5zM583.8 157.6h0.5v0.5h-0.5zM587.3 157.6h1.5v0.5h-1.5zM600.3 157.6h3.5v0.5h-3.5zM614.3 157.6h2.5v0.5h-2.5zM583.8 158.1h1v0.5h-1zM600.8 158.1h3v0.5h-3zM614.3 158.1h2.5v0.5h-2.5zM583.8 158.6h2v0.5h-2zM600.3 158.6h3.5v0.5h-3.5zM613.8 158.6h3v0.5h-3zM584.3 159.1h1.5v0.5h-1.5zM599.8 159.1h4v0.5h-4zM613.8 159.1h3v0.5h-3zM600.3 159.6h2v0.5h-2zM602.8 159.6h1.5v0.5h-1.5zM614.3 159.6h2v0.5h-2zM614.8 160.1h0.5v0.5h-0.5zM604.8 161.1h0.5v0.5h-0.5zM604.8 161.6h1.5v0.5h-1.5zM604.8 162.1h1.5v0.5h-1.5zM607.8 163.1h0.5v0.5h-0.5zM607.3 163.6h1v0.5h-1zM606.8 164.1h1.5v0.5h-1.5zM606.8 164.6h0.5v0.5h-0.5zM607.3 166.6h1v0.5h-1zM607.8 167.1h0.5v0.5h-0.5zM638.8 167.1h1v0.5h-1zM636.3 167.6h3.5v0.5h-3.5zM636.3 168.1h3.5v0.5h-3.5zM636.3 168.6h3.5v0.5h-3.5zM599.8 169.1h2v0.5h-2zM603.8 169.1h1.5v0.5h-1.5zM636.8 169.1h3.5v0.5h-3.5zM590.3 169.6h1v0.5h-1zM598.8 169.6h3.5v0.5h-3.5zM603.3 169.6h2v0.5h-2zM639.3 169.6h1.5v0.5h-1.5zM590.3 170.1h1.5v0.5h-1.5zM598.8 170.1h6.5v0.5h-6.5zM639.3 170.1h1v0.5h-1zM590.8 170.6h1.5v0.5h-1.5zM599.8 170.6h5v0.5h-5zM590.8 171.1h1.5v0.5h-1.5zM600.3 171.1h4v0.5h-4zM635.3 171.1h1v0.5h-1zM590.8 171.6h1.5v0.5h-1.5zM602.3 171.6h1.5v0.5h-1.5zM634.3 171.6h4.5v0.5h-4.5zM590.3 172.1h2v0.5h-2zM633.3 172.1h5.5v0.5h-5.5zM588.8 172.6h4v0.5h-4zM607.8 172.6h1.5v0.5h-1.5zM633.3 172.6h3v0.5h-3zM636.8 172.6h2.5v0.5h-2.5zM589.3 173.1h3.5v0.5h-3.5zM607.3 173.1h2.5v0.5h-2.5zM614.3 173.1h0.5v0.5h-0.5zM633.3 173.1h2.5v0.5h-2.5zM637.3 173.1h1.5v0.5h-1.5zM589.8 173.6h1.5v0.5h-1.5zM598.3 173.6h1.5v0.5h-1.5zM601.8 173.6h0.5v0.5h-0.5zM606.8 173.6h4.5v0.5h-4.5zM614.3 173.6h1v0.5h-1zM633.8 173.6h2v0.5h-2zM637.3 173.6h1v0.5h-1zM597.8 174.1h2.5v0.5h-2.5zM601.3 174.1h1.5v0.5h-1.5zM606.8 174.1h6v0.5h-6zM614.3 174.1h1.5v0.5h-1.5zM633.8 174.1h2v0.5h-2zM597.8 174.6h5v0.5h-5zM603.8 174.6h1v0.5h-1zM606.8 174.6h6v0.5h-6zM614.3 174.6h1.5v0.5h-1.5zM633.8 174.6h2v0.5h-2zM597.3 175.1h8v0.5h-8zM606.8 175.1h2v0.5h-2zM610.3 175.1h2.5v0.5h-2.5zM620.8 175.1h1v0.5h-1zM633.8 175.1h2v0.5h-2zM597.3 175.6h11.5v0.5h-11.5zM610.3 175.6h2v0.5h-2zM620.3 175.6h1.5v0.5h-1.5zM633.8 175.6h2v0.5h-2zM640.8 175.6h0.5v0.5h-0.5zM597.3 176.1h12v0.5h-12zM610.3 176.1h1.5v0.5h-1.5zM620.3 176.1h1.5v0.5h-1.5zM597.3 176.6h9v0.5h-9zM607.3 176.6h2v0.5h-2zM618.8 176.6h3v0.5h-3zM597.3 177.1h8v0.5h-8zM607.8 177.1h2v0.5h-2zM617.8 177.1h4v0.5h-4zM598.3 177.6h5.5v0.5h-5.5zM607.8 177.6h2v0.5h-2zM611.3 177.6h1v0.5h-1zM617.3 177.6h3v0.5h-3zM620.8 177.6h1v0.5h-1zM598.8 178.1h2.5v0.5h-2.5zM601.8 178.1h1.5v0.5h-1.5zM607.8 178.1h2v0.5h-2zM611.3 178.1h3v0.5h-3zM617.3 178.1h3v0.5h-3zM620.8 178.1h1v0.5h-1zM599.3 178.6h1v0.5h-1zM607.3 178.6h3v0.5h-3zM611.3 178.6h3.5v0.5h-3.5zM616.8 178.6h5v0.5h-5zM599.3 179.1h0.5v0.5h-0.5zM606.8 179.1h8.5v0.5h-8.5zM616.3 179.1h7v0.5h-7zM606.8 179.6h13v0.5h-13zM620.3 179.6h3.5v0.5h-3.5zM599.8 180.1h1.5v0.5h-1.5zM603.3 180.1h2.5v0.5h-2.5zM606.3 180.1h13v0.5h-13zM620.3 180.1h3.5v0.5h-3.5zM599.8 180.6h1.5v0.5h-1.5zM602.8 180.6h14.5v0.5h-14.5zM619.8 180.6h4v0.5h-4zM599.8 181.1h1.5v0.5h-1.5zM602.3 181.1h10.5v0.5h-10.5zM613.3 181.1h4v0.5h-4zM619.8 181.1h3.5v0.5h-3.5zM601.8 181.6h10v0.5h-10zM613.8 181.6h3v0.5h-3zM602.3 182.1h8.5v0.5h-8.5zM602.3 182.6h8.5v0.5h-8.5zM602.8 183.1h3.5v0.5h-3.5zM606.8 183.1h4v0.5h-4zM620.3 183.1h2v0.5h-2zM603.3 183.6h2v0.5h-2zM607.3 183.6h4v0.5h-4zM613.8 183.6h1.5v0.5h-1.5zM619.3 183.6h3.5v0.5h-3.5zM623.3 183.6h1v0.5h-1zM607.3 184.1h8v0.5h-8zM617.8 184.1h7v0.5h-7zM607.3 184.6h9.5v0.5h-9.5zM617.8 184.6h8.5v0.5h-8.5zM610.3 185.1h7v0.5h-7zM617.8 185.1h2.5v0.5h-2.5zM621.3 185.1h6v0.5h-6zM612.3 185.6h5v0.5h-5zM618.3 185.6h2v0.5h-2zM621.8 185.6h6v0.5h-6zM612.3 186.1h4.5v0.5h-4.5zM618.8 186.1h1.5v0.5h-1.5zM622.8 186.1h5.5v0.5h-5.5zM612.3 186.6h4.5v0.5h-4.5zM618.8 186.6h1.5v0.5h-1.5zM623.3 186.6h5.5v0.5h-5.5zM613.8 187.1h1v0.5h-1zM616.3 187.1h1v0.5h-1zM618.8 187.1h3v0.5h-3zM623.8 187.1h6v0.5h-6zM614.3 187.6h1v0.5h-1zM616.3 187.6h5v0.5h-5zM623.8 187.6h6v0.5h-6zM614.8 188.1h5v0.5h-5zM623.8 188.1h2.5v0.5h-2.5zM627.8 188.1h1v0.5h-1zM614.8 188.6h2v0.5h-2zM617.8 188.6h1.5v0.5h-1.5zM623.8 188.6h2.5v0.5h-2.5zM615.8 189.1h1v0.5h-1zM618.3 189.1h1v0.5h-1zM623.8 189.1h3v0.5h-3zM620.8 189.6h1v0.5h-1zM623.8 189.6h3v0.5h-3zM628.8 189.6h0.5v0.5h-0.5zM630.8 189.6h1v0.5h-1zM611.3 190.1h0.5v0.5h-0.5zM619.8 190.1h2v0.5h-2zM624.3 190.1h3v0.5h-3zM628.3 190.1h1.5v0.5h-1.5zM631.3 190.1h0.5v0.5h-0.5zM614.3 190.6h0.5v0.5h-0.5zM617.8 190.6h3.5v0.5h-3.5zM624.3 190.6h3v0.5h-3zM628.3 190.6h1v0.5h-1zM613.8 191.1h1.5v0.5h-1.5zM617.8 191.1h3v0.5h-3zM622.3 191.1h0.5v0.5h-0.5zM623.8 191.1h6v0.5h-6zM631.3 191.1h0.5v0.5h-0.5zM632.8 191.1h0.5v0.5h-0.5zM614.3 191.6h0.5v0.5h-0.5zM617.8 191.6h3v0.5h-3zM622.3 191.6h8v0.5h-8zM632.8 191.6h1v0.5h-1zM617.8 192.1h3.5v0.5h-3.5zM624.3 192.1h7v0.5h-7zM633.3 192.1h1.5v0.5h-1.5zM617.3 192.6h4.5v0.5h-4.5zM624.8 192.6h0.5v0.5h-0.5zM626.8 192.6h4.5v0.5h-4.5zM633.8 192.6h1v0.5h-1zM617.3 193.1h5v0.5h-5zM628.8 193.1h2.5v0.5h-2.5zM633.8 193.1h1v0.5h-1zM617.8 193.6h2.5v0.5h-2.5zM620.8 193.6h2v0.5h-2zM629.8 193.6h2v0.5h-2zM617.8 194.1h5.5v0.5h-5.5zM625.8 194.1h2.5v0.5h-2.5zM629.8 194.1h2v0.5h-2zM632.8 194.1h0.5v0.5h-0.5zM617.8 194.6h5v0.5h-5zM625.3 194.6h8.5v0.5h-8.5zM617.8 195.1h5v0.5h-5zM624.3 195.1h5v0.5h-5zM629.8 195.1h3v0.5h-3zM618.3 195.6h4v0.5h-4zM623.8 195.6h3v0.5h-3zM630.3 195.6h2v0.5h-2zM619.3 196.1h3.5v0.5h-3.5zM623.8 196.1h2v0.5h-2zM630.8 196.1h1.5v0.5h-1.5zM619.3 196.6h8v0.5h-8zM630.3 196.6h2v0.5h-2zM619.3 197.1h8v0.5h-8zM630.3 197.1h2v0.5h-2zM619.3 197.6h8v0.5h-8zM629.8 197.6h3v0.5h-3zM617.8 198.1h9.5v0.5h-9.5zM629.8 198.1h4v0.5h-4zM617.8 198.6h10.5v0.5h-10.5zM628.8 198.6h4.5v0.5h-4.5zM617.8 199.1h4v0.5h-4zM622.8 199.1h9.5v0.5h-9.5zM634.8 199.1h1v0.5h-1zM617.8 199.6h2v0.5h-2zM620.3 199.6h1.5v0.5h-1.5zM623.8 199.6h8.5v0.5h-8.5zM634.8 199.6h1v0.5h-1zM618.8 200.1h0.5v0.5h-0.5zM620.8 200.1h0.5v0.5h-0.5zM623.8 200.1h4.5v0.5h-4.5zM630.8 200.1h0.5v0.5h-0.5zM620.8 200.6h0.5v0.5h-0.5zM623.8 200.6h3.5v0.5h-3.5zM622.8 201.1h5v0.5h-5zM629.8 201.1h1.5v0.5h-1.5zM622.3 201.6h5.5v0.5h-5.5zM629.3 201.6h2.5v0.5h-2.5zM621.8 202.1h6.5v0.5h-6.5zM629.3 202.1h3v0.5h-3zM621.3 202.6h1v0.5h-1zM623.8 202.6h10v0.5h-10zM624.8 203.1h9v0.5h-9zM618.8 203.6h1v0.5h-1zM626.3 203.6h7.5v0.5h-7.5zM618.8 204.1h3.5v0.5h-3.5zM624.3 204.1h0.5v0.5h-0.5zM627.8 204.1h6v0.5h-6zM618.8 204.6h4v0.5h-4zM623.8 204.6h1.5v0.5h-1.5zM628.8 204.6h1v0.5h-1zM630.8 204.6h3.5v0.5h-3.5zM618.8 205.1h4.5v0.5h-4.5zM623.8 205.1h1.5v0.5h-1.5zM628.8 205.1h1v0.5h-1zM630.8 205.1h4v0.5h-4zM620.3 205.6h2.5v0.5h-2.5zM624.3 205.6h0.5v0.5h-0.5zM631.3 205.6h3.5v0.5h-3.5zM620.8 206.1h1.5v0.5h-1.5zM624.3 206.1h1v0.5h-1zM631.3 206.1h3.5v0.5h-3.5zM620.8 206.6h1.5v0.5h-1.5zM624.3 206.6h4v0.5h-4zM631.3 206.6h4v0.5h-4zM620.8 207.1h2v0.5h-2zM623.8 207.1h5v0.5h-5zM631.3 207.1h5v0.5h-5zM620.8 207.6h2v0.5h-2zM624.3 207.6h4.5v0.5h-4.5zM631.3 207.6h1.5v0.5h-1.5zM633.3 207.6h3v0.5h-3zM620.8 208.1h1.5v0.5h-1.5zM624.3 208.1h4v0.5h-4zM633.8 208.1h1v0.5h-1zM635.3 208.1h1v0.5h-1zM624.8 208.6h2.5v0.5h-2.5zM635.8 208.6h2v0.5h-2zM625.3 209.1h1v0.5h-1zM631.3 209.1h2.5v0.5h-2.5zM636.3 209.1h1.5v0.5h-1.5zM620.8 209.6h1.5v0.5h-1.5zM624.3 209.6h2v0.5h-2zM631.3 209.6h3v0.5h-3zM636.3 209.6h3.5v0.5h-3.5zM620.8 210.1h6v0.5h-6zM631.3 210.1h3.5v0.5h-3.5zM636.8 210.1h2.5v0.5h-2.5zM620.8 210.6h6v0.5h-6zM631.3 210.6h3.5v0.5h-3.5zM636.8 210.6h2v0.5h-2zM620.8 211.1h4.5v0.5h-4.5zM630.8 211.1h4v0.5h-4zM636.8 211.1h1.5v0.5h-1.5zM621.3 211.6h4v0.5h-4zM630.8 211.6h4.5v0.5h-4.5zM637.3 211.6h1v0.5h-1zM622.3 212.1h1v0.5h-1zM624.3 212.1h1.5v0.5h-1.5zM628.8 212.1h1v0.5h-1zM630.8 212.1h5v0.5h-5zM624.3 212.6h2v0.5h-2zM628.3 212.6h2v0.5h-2zM630.8 212.6h5.5v0.5h-5.5zM623.8 213.1h3v0.5h-3zM628.8 213.1h1.5v0.5h-1.5zM630.8 213.1h1.5v0.5h-1.5zM633.8 213.1h2.5v0.5h-2.5zM621.8 213.6h5v0.5h-5zM629.3 213.6h1v0.5h-1zM634.3 213.6h2v0.5h-2zM621.8 214.1h4.5v0.5h-4.5zM628.8 214.1h2v0.5h-2zM634.8 214.1h1v0.5h-1zM622.3 214.6h4v0.5h-4zM628.3 214.6h2.5v0.5h-2.5zM622.3 215.1h3.5v0.5h-3.5zM628.3 215.1h2.5v0.5h-2.5zM622.3 215.6h4v0.5h-4zM628.3 215.6h2.5v0.5h-2.5zM622.8 216.1h5v0.5h-5zM628.8 216.1h2v0.5h-2zM635.3 216.1h1v0.5h-1zM624.3 216.6h3.5v0.5h-3.5zM629.3 216.6h1.5v0.5h-1.5zM634.8 216.6h1.5v0.5h-1.5zM624.3 217.1h2v0.5h-2zM629.8 217.1h0.5v0.5h-0.5zM634.8 217.1h1.5v0.5h-1.5zM624.3 217.6h1.5v0.5h-1.5zM629.3 217.6h1v0.5h-1zM633.3 217.6h1v0.5h-1zM624.8 218.1h0.5v0.5h-0.5zM628.8 218.1h1.5v0.5h-1.5zM632.8 218.1h1.5v0.5h-1.5zM628.8 218.6h1v0.5h-1zM632.8 218.6h1.5v0.5h-1.5zM632.8 219.1h1.5v0.5h-1.5zM629.3 219.6h1v0.5h-1zM633.3 219.6h1v0.5h-1zM628.8 220.1h3v0.5h-3zM628.8 220.6h3v0.5h-3zM628.8 221.1h0.5v0.5h-0.5z" fill="#0c0cff"/>
<rect x="577.6" y="156.2" width="1.2" height="0.9" fill="#0c0cff"/>
<rect x="606.1" y="146.5" width="1.0" height="1.0" fill="#0c0cff"/>
<rect x="597.3" y="149.5" width="1.4" height="1.0" fill="#0c0cff"/>
<rect x="621.3" y="159.0" width="1.0" height="1.4" fill="#0c0cff"/>
<rect x="584.1" y="168.7" width="1.0" height="1.6" fill="#0c0cff"/>
<rect x="636.8" y="230.3" width="1.4" height="2.4" fill="#0c0cff"/>
<rect x="639.8" y="225.0" width="1.0" height="2.0" fill="#0c0cff"/>
<rect x="591.8" y="171.3" width="1.5" height="1.0" fill="#0c0cff"/>
<rect x="574.6" y="164.7" width="0.7" height="0.7" fill="#0c0cff"/>
<rect x="627.6" y="149.7" width="0.7" height="0.7" fill="#0c0cff"/>
<rect x="611.6" y="161.7" width="0.7" height="0.7" fill="#0c0cff"/>
<rect x="595.6" y="177.7" width="0.7" height="0.7" fill="#0c0cff"/>
<rect x="349.4" y="22.3" width="78.0" height="94.2" fill="none" stroke="#606060" stroke-width="0.8"/>
<line x1="347.2" y1="22.3" x2="349.4" y2="22.3" stroke="#888" stroke-width="0.6"/>
<text x="345.7" y="24.1" font-size="4.9" text-anchor="end" fill="#2a2a2a" textLength="11.4" lengthAdjust="spacingAndGlyphs">37.00</text>
<line x1="347.2" y1="34.1" x2="349.4" y2="34.1" stroke="#888" stroke-width="0.6"/>
<text x="345.7" y="35.8" font-size="4.9" text-anchor="end" fill="#2a2a2a" textLength="11.4" lengthAdjust="spacingAndGlyphs">36.75</text>
<line x1="347.2" y1="45.9" x2="349.4" y2="45.9" stroke="#888" stroke-width="0.6"/>
<text x="345.7" y="47.6" font-size="4.9" text-anchor="end" fill="#2a2a2a" textLength="11.4" lengthAdjust="spacingAndGlyphs">36.50</text>
<line x1="347.2" y1="57.6" x2="349.4" y2="57.6" stroke="#888" stroke-width="0.6"/>
<text x="345.7" y="59.4" font-size="4.9" text-anchor="end" fill="#2a2a2a" textLength="11.4" lengthAdjust="spacingAndGlyphs">36.25</text>
<line x1="347.2" y1="69.4" x2="349.4" y2="69.4" stroke="#888" stroke-width="0.6"/>
<text x="345.7" y="71.2" font-size="4.9" text-anchor="end" fill="#2a2a2a" textLength="11.4" lengthAdjust="spacingAndGlyphs">36.00</text>
<line x1="347.2" y1="81.2" x2="349.4" y2="81.2" stroke="#888" stroke-width="0.6"/>
<text x="345.7" y="82.9" font-size="4.9" text-anchor="end" fill="#2a2a2a" textLength="11.4" lengthAdjust="spacingAndGlyphs">35.75</text>
<line x1="347.2" y1="93.0" x2="349.4" y2="93.0" stroke="#888" stroke-width="0.6"/>
<text x="345.7" y="94.7" font-size="4.9" text-anchor="end" fill="#2a2a2a" textLength="11.4" lengthAdjust="spacingAndGlyphs">35.50</text>
<line x1="347.2" y1="104.7" x2="349.4" y2="104.7" stroke="#888" stroke-width="0.6"/>
<text x="345.7" y="106.5" font-size="4.9" text-anchor="end" fill="#2a2a2a" textLength="11.4" lengthAdjust="spacingAndGlyphs">35.25</text>
<line x1="347.2" y1="116.5" x2="349.4" y2="116.5" stroke="#888" stroke-width="0.6"/>
<text x="345.7" y="118.2" font-size="4.9" text-anchor="end" fill="#2a2a2a" textLength="11.4" lengthAdjust="spacingAndGlyphs">35.00</text>
<line x1="349.4" y1="116.5" x2="349.4" y2="118.7" stroke="#888" stroke-width="0.6"/>
<text x="349.4" y="123.1" font-size="4.9" text-anchor="middle" fill="#2a2a2a" textLength="13" lengthAdjust="spacingAndGlyphs">−89.0</text>
<line x1="368.9" y1="116.5" x2="368.9" y2="118.7" stroke="#888" stroke-width="0.6"/>
<text x="368.9" y="123.1" font-size="4.9" text-anchor="middle" fill="#2a2a2a" textLength="13" lengthAdjust="spacingAndGlyphs">−88.5</text>
<line x1="388.4" y1="116.5" x2="388.4" y2="118.7" stroke="#888" stroke-width="0.6"/>
<text x="388.4" y="123.1" font-size="4.9" text-anchor="middle" fill="#2a2a2a" textLength="13" lengthAdjust="spacingAndGlyphs">−88.0</text>
<line x1="407.9" y1="116.5" x2="407.9" y2="118.7" stroke="#888" stroke-width="0.6"/>
<text x="407.9" y="123.1" font-size="4.9" text-anchor="middle" fill="#2a2a2a" textLength="13" lengthAdjust="spacingAndGlyphs">−87.5</text>
<line x1="427.4" y1="116.5" x2="427.4" y2="118.7" stroke="#888" stroke-width="0.6"/>
<text x="427.4" y="123.1" font-size="4.9" text-anchor="middle" fill="#2a2a2a" textLength="13" lengthAdjust="spacingAndGlyphs">−87.0</text>
<rect x="455.3" y="22.3" width="79.1" height="94.2" fill="none" stroke="#606060" stroke-width="0.8"/>
<line x1="453.1" y1="22.3" x2="455.3" y2="22.3" stroke="#888" stroke-width="0.6"/>
<text x="451.6" y="24.1" font-size="4.9" text-anchor="end" fill="#2a2a2a" textLength="11.4" lengthAdjust="spacingAndGlyphs">37.00</text>
<line x1="453.1" y1="34.1" x2="455.3" y2="34.1" stroke="#888" stroke-width="0.6"/>
<text x="451.6" y="35.8" font-size="4.9" text-anchor="end" fill="#2a2a2a" textLength="11.4" lengthAdjust="spacingAndGlyphs">36.75</text>
<line x1="453.1" y1="45.9" x2="455.3" y2="45.9" stroke="#888" stroke-width="0.6"/>
<text x="451.6" y="47.6" font-size="4.9" text-anchor="end" fill="#2a2a2a" textLength="11.4" lengthAdjust="spacingAndGlyphs">36.50</text>
<line x1="453.1" y1="57.6" x2="455.3" y2="57.6" stroke="#888" stroke-width="0.6"/>
<text x="451.6" y="59.4" font-size="4.9" text-anchor="end" fill="#2a2a2a" textLength="11.4" lengthAdjust="spacingAndGlyphs">36.25</text>
<line x1="453.1" y1="69.4" x2="455.3" y2="69.4" stroke="#888" stroke-width="0.6"/>
<text x="451.6" y="71.2" font-size="4.9" text-anchor="end" fill="#2a2a2a" textLength="11.4" lengthAdjust="spacingAndGlyphs">36.00</text>
<line x1="453.1" y1="81.2" x2="455.3" y2="81.2" stroke="#888" stroke-width="0.6"/>
<text x="451.6" y="82.9" font-size="4.9" text-anchor="end" fill="#2a2a2a" textLength="11.4" lengthAdjust="spacingAndGlyphs">35.75</text>
<line x1="453.1" y1="93.0" x2="455.3" y2="93.0" stroke="#888" stroke-width="0.6"/>
<text x="451.6" y="94.7" font-size="4.9" text-anchor="end" fill="#2a2a2a" textLength="11.4" lengthAdjust="spacingAndGlyphs">35.50</text>
<line x1="453.1" y1="104.7" x2="455.3" y2="104.7" stroke="#888" stroke-width="0.6"/>
<text x="451.6" y="106.5" font-size="4.9" text-anchor="end" fill="#2a2a2a" textLength="11.4" lengthAdjust="spacingAndGlyphs">35.25</text>
<line x1="453.1" y1="116.5" x2="455.3" y2="116.5" stroke="#888" stroke-width="0.6"/>
<text x="451.6" y="118.2" font-size="4.9" text-anchor="end" fill="#2a2a2a" textLength="11.4" lengthAdjust="spacingAndGlyphs">35.00</text>
<line x1="455.3" y1="116.5" x2="455.3" y2="118.7" stroke="#888" stroke-width="0.6"/>
<text x="455.3" y="123.1" font-size="4.9" text-anchor="middle" fill="#2a2a2a" textLength="13" lengthAdjust="spacingAndGlyphs">−89.0</text>
<line x1="475.1" y1="116.5" x2="475.1" y2="118.7" stroke="#888" stroke-width="0.6"/>
<text x="475.1" y="123.1" font-size="4.9" text-anchor="middle" fill="#2a2a2a" textLength="13" lengthAdjust="spacingAndGlyphs">−88.5</text>
<line x1="494.9" y1="116.5" x2="494.9" y2="118.7" stroke="#888" stroke-width="0.6"/>
<text x="494.9" y="123.1" font-size="4.9" text-anchor="middle" fill="#2a2a2a" textLength="13" lengthAdjust="spacingAndGlyphs">−88.0</text>
<line x1="514.6" y1="116.5" x2="514.6" y2="118.7" stroke="#888" stroke-width="0.6"/>
<text x="514.6" y="123.1" font-size="4.9" text-anchor="middle" fill="#2a2a2a" textLength="13" lengthAdjust="spacingAndGlyphs">−87.5</text>
<line x1="534.4" y1="116.5" x2="534.4" y2="118.7" stroke="#888" stroke-width="0.6"/>
<text x="534.4" y="123.1" font-size="4.9" text-anchor="middle" fill="#2a2a2a" textLength="13" lengthAdjust="spacingAndGlyphs">−87.0</text>
<rect x="562.3" y="22.3" width="78.9" height="94.2" fill="none" stroke="#606060" stroke-width="0.8"/>
<line x1="560.1" y1="22.3" x2="562.3" y2="22.3" stroke="#888" stroke-width="0.6"/>
<text x="558.6" y="24.1" font-size="4.9" text-anchor="end" fill="#2a2a2a" textLength="11.4" lengthAdjust="spacingAndGlyphs">37.00</text>
<line x1="560.1" y1="34.1" x2="562.3" y2="34.1" stroke="#888" stroke-width="0.6"/>
<text x="558.6" y="35.8" font-size="4.9" text-anchor="end" fill="#2a2a2a" textLength="11.4" lengthAdjust="spacingAndGlyphs">36.75</text>
<line x1="560.1" y1="45.9" x2="562.3" y2="45.9" stroke="#888" stroke-width="0.6"/>
<text x="558.6" y="47.6" font-size="4.9" text-anchor="end" fill="#2a2a2a" textLength="11.4" lengthAdjust="spacingAndGlyphs">36.50</text>
<line x1="560.1" y1="57.6" x2="562.3" y2="57.6" stroke="#888" stroke-width="0.6"/>
<text x="558.6" y="59.4" font-size="4.9" text-anchor="end" fill="#2a2a2a" textLength="11.4" lengthAdjust="spacingAndGlyphs">36.25</text>
<line x1="560.1" y1="69.4" x2="562.3" y2="69.4" stroke="#888" stroke-width="0.6"/>
<text x="558.6" y="71.2" font-size="4.9" text-anchor="end" fill="#2a2a2a" textLength="11.4" lengthAdjust="spacingAndGlyphs">36.00</text>
<line x1="560.1" y1="81.2" x2="562.3" y2="81.2" stroke="#888" stroke-width="0.6"/>
<text x="558.6" y="82.9" font-size="4.9" text-anchor="end" fill="#2a2a2a" textLength="11.4" lengthAdjust="spacingAndGlyphs">35.75</text>
<line x1="560.1" y1="93.0" x2="562.3" y2="93.0" stroke="#888" stroke-width="0.6"/>
<text x="558.6" y="94.7" font-size="4.9" text-anchor="end" fill="#2a2a2a" textLength="11.4" lengthAdjust="spacingAndGlyphs">35.50</text>
<line x1="560.1" y1="104.7" x2="562.3" y2="104.7" stroke="#888" stroke-width="0.6"/>
<text x="558.6" y="106.5" font-size="4.9" text-anchor="end" fill="#2a2a2a" textLength="11.4" lengthAdjust="spacingAndGlyphs">35.25</text>
<line x1="560.1" y1="116.5" x2="562.3" y2="116.5" stroke="#888" stroke-width="0.6"/>
<text x="558.6" y="118.2" font-size="4.9" text-anchor="end" fill="#2a2a2a" textLength="11.4" lengthAdjust="spacingAndGlyphs">35.00</text>
<line x1="562.3" y1="116.5" x2="562.3" y2="118.7" stroke="#888" stroke-width="0.6"/>
<text x="562.3" y="123.1" font-size="4.9" text-anchor="middle" fill="#2a2a2a" textLength="13" lengthAdjust="spacingAndGlyphs">−89.0</text>
<line x1="582.0" y1="116.5" x2="582.0" y2="118.7" stroke="#888" stroke-width="0.6"/>
<text x="582.0" y="123.1" font-size="4.9" text-anchor="middle" fill="#2a2a2a" textLength="13" lengthAdjust="spacingAndGlyphs">−88.5</text>
<line x1="601.8" y1="116.5" x2="601.8" y2="118.7" stroke="#888" stroke-width="0.6"/>
<text x="601.8" y="123.1" font-size="4.9" text-anchor="middle" fill="#2a2a2a" textLength="13" lengthAdjust="spacingAndGlyphs">−88.0</text>
<line x1="621.5" y1="116.5" x2="621.5" y2="118.7" stroke="#888" stroke-width="0.6"/>
<text x="621.5" y="123.1" font-size="4.9" text-anchor="middle" fill="#2a2a2a" textLength="13" lengthAdjust="spacingAndGlyphs">−87.5</text>
<line x1="641.2" y1="116.5" x2="641.2" y2="118.7" stroke="#888" stroke-width="0.6"/>
<text x="641.2" y="123.1" font-size="4.9" text-anchor="middle" fill="#2a2a2a" textLength="13" lengthAdjust="spacingAndGlyphs">−87.0</text>
<rect x="349.4" y="140.1" width="78.0" height="94.2" fill="none" stroke="#606060" stroke-width="0.8"/>
<line x1="347.2" y1="140.1" x2="349.4" y2="140.1" stroke="#888" stroke-width="0.6"/>
<text x="345.7" y="141.8" font-size="4.9" text-anchor="end" fill="#2a2a2a" textLength="11.4" lengthAdjust="spacingAndGlyphs">37.00</text>
<line x1="347.2" y1="151.8" x2="349.4" y2="151.8" stroke="#888" stroke-width="0.6"/>
<text x="345.7" y="153.6" font-size="4.9" text-anchor="end" fill="#2a2a2a" textLength="11.4" lengthAdjust="spacingAndGlyphs">36.75</text>
<line x1="347.2" y1="163.6" x2="349.4" y2="163.6" stroke="#888" stroke-width="0.6"/>
<text x="345.7" y="165.4" font-size="4.9" text-anchor="end" fill="#2a2a2a" textLength="11.4" lengthAdjust="spacingAndGlyphs">36.50</text>
<line x1="347.2" y1="175.4" x2="349.4" y2="175.4" stroke="#888" stroke-width="0.6"/>
<text x="345.7" y="177.1" font-size="4.9" text-anchor="end" fill="#2a2a2a" textLength="11.4" lengthAdjust="spacingAndGlyphs">36.25</text>
<line x1="347.2" y1="187.2" x2="349.4" y2="187.2" stroke="#888" stroke-width="0.6"/>
<text x="345.7" y="188.9" font-size="4.9" text-anchor="end" fill="#2a2a2a" textLength="11.4" lengthAdjust="spacingAndGlyphs">36.00</text>
<line x1="347.2" y1="198.9" x2="349.4" y2="198.9" stroke="#888" stroke-width="0.6"/>
<text x="345.7" y="200.7" font-size="4.9" text-anchor="end" fill="#2a2a2a" textLength="11.4" lengthAdjust="spacingAndGlyphs">35.75</text>
<line x1="347.2" y1="210.7" x2="349.4" y2="210.7" stroke="#888" stroke-width="0.6"/>
<text x="345.7" y="212.5" font-size="4.9" text-anchor="end" fill="#2a2a2a" textLength="11.4" lengthAdjust="spacingAndGlyphs">35.50</text>
<line x1="347.2" y1="222.5" x2="349.4" y2="222.5" stroke="#888" stroke-width="0.6"/>
<text x="345.7" y="224.2" font-size="4.9" text-anchor="end" fill="#2a2a2a" textLength="11.4" lengthAdjust="spacingAndGlyphs">35.25</text>
<line x1="347.2" y1="234.2" x2="349.4" y2="234.2" stroke="#888" stroke-width="0.6"/>
<text x="345.7" y="236.0" font-size="4.9" text-anchor="end" fill="#2a2a2a" textLength="11.4" lengthAdjust="spacingAndGlyphs">35.00</text>
<line x1="349.4" y1="234.2" x2="349.4" y2="236.4" stroke="#888" stroke-width="0.6"/>
<text x="349.4" y="240.8" font-size="4.9" text-anchor="middle" fill="#2a2a2a" textLength="13" lengthAdjust="spacingAndGlyphs">−89.0</text>
<line x1="368.9" y1="234.2" x2="368.9" y2="236.4" stroke="#888" stroke-width="0.6"/>
<text x="368.9" y="240.8" font-size="4.9" text-anchor="middle" fill="#2a2a2a" textLength="13" lengthAdjust="spacingAndGlyphs">−88.5</text>
<line x1="388.4" y1="234.2" x2="388.4" y2="236.4" stroke="#888" stroke-width="0.6"/>
<text x="388.4" y="240.8" font-size="4.9" text-anchor="middle" fill="#2a2a2a" textLength="13" lengthAdjust="spacingAndGlyphs">−88.0</text>
<line x1="407.9" y1="234.2" x2="407.9" y2="236.4" stroke="#888" stroke-width="0.6"/>
<text x="407.9" y="240.8" font-size="4.9" text-anchor="middle" fill="#2a2a2a" textLength="13" lengthAdjust="spacingAndGlyphs">−87.5</text>
<line x1="427.4" y1="234.2" x2="427.4" y2="236.4" stroke="#888" stroke-width="0.6"/>
<text x="427.4" y="240.8" font-size="4.9" text-anchor="middle" fill="#2a2a2a" textLength="13" lengthAdjust="spacingAndGlyphs">−87.0</text>
<rect x="455.3" y="140.1" width="79.1" height="94.2" fill="none" stroke="#606060" stroke-width="0.8"/>
<line x1="453.1" y1="140.1" x2="455.3" y2="140.1" stroke="#888" stroke-width="0.6"/>
<text x="451.6" y="141.8" font-size="4.9" text-anchor="end" fill="#2a2a2a" textLength="11.4" lengthAdjust="spacingAndGlyphs">37.00</text>
<line x1="453.1" y1="151.8" x2="455.3" y2="151.8" stroke="#888" stroke-width="0.6"/>
<text x="451.6" y="153.6" font-size="4.9" text-anchor="end" fill="#2a2a2a" textLength="11.4" lengthAdjust="spacingAndGlyphs">36.75</text>
<line x1="453.1" y1="163.6" x2="455.3" y2="163.6" stroke="#888" stroke-width="0.6"/>
<text x="451.6" y="165.4" font-size="4.9" text-anchor="end" fill="#2a2a2a" textLength="11.4" lengthAdjust="spacingAndGlyphs">36.50</text>
<line x1="453.1" y1="175.4" x2="455.3" y2="175.4" stroke="#888" stroke-width="0.6"/>
<text x="451.6" y="177.1" font-size="4.9" text-anchor="end" fill="#2a2a2a" textLength="11.4" lengthAdjust="spacingAndGlyphs">36.25</text>
<line x1="453.1" y1="187.2" x2="455.3" y2="187.2" stroke="#888" stroke-width="0.6"/>
<text x="451.6" y="188.9" font-size="4.9" text-anchor="end" fill="#2a2a2a" textLength="11.4" lengthAdjust="spacingAndGlyphs">36.00</text>
<line x1="453.1" y1="198.9" x2="455.3" y2="198.9" stroke="#888" stroke-width="0.6"/>
<text x="451.6" y="200.7" font-size="4.9" text-anchor="end" fill="#2a2a2a" textLength="11.4" lengthAdjust="spacingAndGlyphs">35.75</text>
<line x1="453.1" y1="210.7" x2="455.3" y2="210.7" stroke="#888" stroke-width="0.6"/>
<text x="451.6" y="212.5" font-size="4.9" text-anchor="end" fill="#2a2a2a" textLength="11.4" lengthAdjust="spacingAndGlyphs">35.50</text>
<line x1="453.1" y1="222.5" x2="455.3" y2="222.5" stroke="#888" stroke-width="0.6"/>
<text x="451.6" y="224.2" font-size="4.9" text-anchor="end" fill="#2a2a2a" textLength="11.4" lengthAdjust="spacingAndGlyphs">35.25</text>
<line x1="453.1" y1="234.2" x2="455.3" y2="234.2" stroke="#888" stroke-width="0.6"/>
<text x="451.6" y="236.0" font-size="4.9" text-anchor="end" fill="#2a2a2a" textLength="11.4" lengthAdjust="spacingAndGlyphs">35.00</text>
<line x1="455.3" y1="234.2" x2="455.3" y2="236.4" stroke="#888" stroke-width="0.6"/>
<text x="455.3" y="240.8" font-size="4.9" text-anchor="middle" fill="#2a2a2a" textLength="13" lengthAdjust="spacingAndGlyphs">−89.0</text>
<line x1="475.1" y1="234.2" x2="475.1" y2="236.4" stroke="#888" stroke-width="0.6"/>
<text x="475.1" y="240.8" font-size="4.9" text-anchor="middle" fill="#2a2a2a" textLength="13" lengthAdjust="spacingAndGlyphs">−88.5</text>
<line x1="494.9" y1="234.2" x2="494.9" y2="236.4" stroke="#888" stroke-width="0.6"/>
<text x="494.9" y="240.8" font-size="4.9" text-anchor="middle" fill="#2a2a2a" textLength="13" lengthAdjust="spacingAndGlyphs">−88.0</text>
<line x1="514.6" y1="234.2" x2="514.6" y2="236.4" stroke="#888" stroke-width="0.6"/>
<text x="514.6" y="240.8" font-size="4.9" text-anchor="middle" fill="#2a2a2a" textLength="13" lengthAdjust="spacingAndGlyphs">−87.5</text>
<line x1="534.4" y1="234.2" x2="534.4" y2="236.4" stroke="#888" stroke-width="0.6"/>
<text x="534.4" y="240.8" font-size="4.9" text-anchor="middle" fill="#2a2a2a" textLength="13" lengthAdjust="spacingAndGlyphs">−87.0</text>
<rect x="562.3" y="140.1" width="78.9" height="94.2" fill="none" stroke="#606060" stroke-width="0.8"/>
<line x1="560.1" y1="140.1" x2="562.3" y2="140.1" stroke="#888" stroke-width="0.6"/>
<text x="558.6" y="141.8" font-size="4.9" text-anchor="end" fill="#2a2a2a" textLength="11.4" lengthAdjust="spacingAndGlyphs">37.00</text>
<line x1="560.1" y1="151.8" x2="562.3" y2="151.8" stroke="#888" stroke-width="0.6"/>
<text x="558.6" y="153.6" font-size="4.9" text-anchor="end" fill="#2a2a2a" textLength="11.4" lengthAdjust="spacingAndGlyphs">36.75</text>
<line x1="560.1" y1="163.6" x2="562.3" y2="163.6" stroke="#888" stroke-width="0.6"/>
<text x="558.6" y="165.4" font-size="4.9" text-anchor="end" fill="#2a2a2a" textLength="11.4" lengthAdjust="spacingAndGlyphs">36.50</text>
<line x1="560.1" y1="175.4" x2="562.3" y2="175.4" stroke="#888" stroke-width="0.6"/>
<text x="558.6" y="177.1" font-size="4.9" text-anchor="end" fill="#2a2a2a" textLength="11.4" lengthAdjust="spacingAndGlyphs">36.25</text>
<line x1="560.1" y1="187.2" x2="562.3" y2="187.2" stroke="#888" stroke-width="0.6"/>
<text x="558.6" y="188.9" font-size="4.9" text-anchor="end" fill="#2a2a2a" textLength="11.4" lengthAdjust="spacingAndGlyphs">36.00</text>
<line x1="560.1" y1="198.9" x2="562.3" y2="198.9" stroke="#888" stroke-width="0.6"/>
<text x="558.6" y="200.7" font-size="4.9" text-anchor="end" fill="#2a2a2a" textLength="11.4" lengthAdjust="spacingAndGlyphs">35.75</text>
<line x1="560.1" y1="210.7" x2="562.3" y2="210.7" stroke="#888" stroke-width="0.6"/>
<text x="558.6" y="212.5" font-size="4.9" text-anchor="end" fill="#2a2a2a" textLength="11.4" lengthAdjust="spacingAndGlyphs">35.50</text>
<line x1="560.1" y1="222.5" x2="562.3" y2="222.5" stroke="#888" stroke-width="0.6"/>
<text x="558.6" y="224.2" font-size="4.9" text-anchor="end" fill="#2a2a2a" textLength="11.4" lengthAdjust="spacingAndGlyphs">35.25</text>
<line x1="560.1" y1="234.2" x2="562.3" y2="234.2" stroke="#888" stroke-width="0.6"/>
<text x="558.6" y="236.0" font-size="4.9" text-anchor="end" fill="#2a2a2a" textLength="11.4" lengthAdjust="spacingAndGlyphs">35.00</text>
<line x1="562.3" y1="234.2" x2="562.3" y2="236.4" stroke="#888" stroke-width="0.6"/>
<text x="562.3" y="240.8" font-size="4.9" text-anchor="middle" fill="#2a2a2a" textLength="13" lengthAdjust="spacingAndGlyphs">−89.0</text>
<line x1="582.0" y1="234.2" x2="582.0" y2="236.4" stroke="#888" stroke-width="0.6"/>
<text x="582.0" y="240.8" font-size="4.9" text-anchor="middle" fill="#2a2a2a" textLength="13" lengthAdjust="spacingAndGlyphs">−88.5</text>
<line x1="601.8" y1="234.2" x2="601.8" y2="236.4" stroke="#888" stroke-width="0.6"/>
<text x="601.8" y="240.8" font-size="4.9" text-anchor="middle" fill="#2a2a2a" textLength="13" lengthAdjust="spacingAndGlyphs">−88.0</text>
<line x1="621.5" y1="234.2" x2="621.5" y2="236.4" stroke="#888" stroke-width="0.6"/>
<text x="621.5" y="240.8" font-size="4.9" text-anchor="middle" fill="#2a2a2a" textLength="13" lengthAdjust="spacingAndGlyphs">−87.5</text>
<line x1="641.2" y1="234.2" x2="641.2" y2="236.4" stroke="#888" stroke-width="0.6"/>
<text x="641.2" y="240.8" font-size="4.9" text-anchor="middle" fill="#2a2a2a" textLength="13" lengthAdjust="spacingAndGlyphs">−87.0</text>
<path d="M499.4,172.9 L501.2,172.5 L503.4,173.8 L505.5,173.3 L508.2,174.6 L511.2,174.6 L513.0,176.0 L514.3,178.2 L515.2,180.4 L517.8,181.7 L520.0,183.0 L521.8,182.5 L523.1,184.7 L522.6,186.9 L520.5,187.8 L518.7,189.6 L517.8,192.2 L516.1,194.4 L513.4,195.7 L510.8,195.3 L508.2,194.4 L505.5,193.5 L503.4,192.2 L502.0,190.0 L501.2,187.8 L499.0,186.5 L496.8,185.6 L494.6,184.7 L494.1,183.0 L495.9,181.7 L496.8,179.9 L495.5,178.2 L496.8,176.4 L499.0,175.5 L498.5,173.8Z" fill="none" stroke="#45b34a" stroke-width="1.6" stroke-linejoin="round"/>
<ellipse cx="608" cy="47.9" rx="27.6" ry="14.0" transform="rotate(33.5 608 47.9)" fill="none" stroke="#e9803a" stroke-width="1.7"/>
<ellipse cx="610.4" cy="166.4" rx="27.6" ry="14.4" transform="rotate(33 610.4 166.4)" fill="none" stroke="#e9803a" stroke-width="1.7"/>
<line x1="512.9" y1="70" x2="511.3" y2="171" stroke="#1a1a1a" stroke-width="1"/>
<path d="M509.3,170.2 L513.3,170.3 L511.2,174.2 Z" fill="#111"/>
<line x1="604.9" y1="63.8" x2="604.4" y2="141" stroke="#1a1a1a" stroke-width="1"/>
<path d="M602.3,140.1 L606.5,140.1 L604.3,144.6 Z" fill="#111"/>
<text transform="translate(497.2,95.7) rotate(-90)" font-size="8.8" font-weight="bold" text-anchor="middle" fill="#111" stroke="#111" stroke-width="0.3" textLength="28.6" lengthAdjust="spacingAndGlyphs">Pattern</text>
<text transform="translate(508.7,94.3) rotate(-90)" font-size="8.8" font-weight="bold" text-anchor="middle" fill="#111" stroke="#111" stroke-width="0.3" textLength="18.6" lengthAdjust="spacingAndGlyphs">Error</text>
<text transform="translate(587.0,84.4) rotate(-90)" font-size="8.8" font-weight="bold" text-anchor="middle" fill="#111" stroke="#111" stroke-width="0.3" textLength="54.2" lengthAdjust="spacingAndGlyphs">Displacement</text>
<text transform="translate(599.3,83.4) rotate(-90)" font-size="8.8" font-weight="bold" text-anchor="middle" fill="#111" stroke="#111" stroke-width="0.3" textLength="19.5" lengthAdjust="spacingAndGlyphs">Error</text>
<rect x="655.6" y="75.5" width="6.6" height="105" fill="url(#gCb)" stroke="#777" stroke-width="0.5"/>
<line x1="662.2" y1="75.5" x2="664.4" y2="75.5" stroke="#444" stroke-width="0.6"/>
<text x="664.5" y="78.6" font-size="8.8" fill="#222" textLength="10.5" lengthAdjust="spacingAndGlyphs">30</text>
<line x1="662.2" y1="96.5" x2="664.4" y2="96.5" stroke="#444" stroke-width="0.6"/>
<text x="664.5" y="99.6" font-size="8.8" fill="#222" textLength="10.5" lengthAdjust="spacingAndGlyphs">28</text>
<line x1="662.2" y1="117.5" x2="664.4" y2="117.5" stroke="#444" stroke-width="0.6"/>
<text x="664.5" y="120.6" font-size="8.8" fill="#222" textLength="10.5" lengthAdjust="spacingAndGlyphs">26</text>
<line x1="662.2" y1="138.5" x2="664.4" y2="138.5" stroke="#444" stroke-width="0.6"/>
<text x="664.5" y="141.6" font-size="8.8" fill="#222" textLength="10.5" lengthAdjust="spacingAndGlyphs">24</text>
<line x1="662.2" y1="159.5" x2="664.4" y2="159.5" stroke="#444" stroke-width="0.6"/>
<text x="664.5" y="162.6" font-size="8.8" fill="#222" textLength="10.5" lengthAdjust="spacingAndGlyphs">22</text>
<line x1="662.2" y1="180.5" x2="664.4" y2="180.5" stroke="#444" stroke-width="0.6"/>
<text x="664.5" y="183.6" font-size="8.8" fill="#222" textLength="10.5" lengthAdjust="spacingAndGlyphs">20</text>
<text transform="translate(683.4,128) rotate(-90)" font-size="8.4" font-weight="bold" text-anchor="middle" fill="#111" stroke="#111" stroke-width="0.15" textLength="88" lengthAdjust="spacingAndGlyphs">Precipitation (mm/h)</text>
</g>
<g id="panelC">
<text x="159.3" y="211" font-size="8.9" font-weight="bold" text-anchor="middle">Error Decomposition</text>
<rect x="48.45" y="388.38" width="12.3" height="1.32" fill="#1414f6"/>
<rect x="110.15" y="385.57" width="12.3" height="4.12" fill="#1414f6"/>
<rect x="171.85" y="384.25" width="12.3" height="5.45" fill="#1414f6"/>
<rect x="233.65" y="383.10" width="12.3" height="6.60" fill="#1414f6"/>
<rect x="122.45" y="376.83" width="12.3" height="12.87" fill="#f18b29"/>
<rect x="184.15" y="324.86" width="12.3" height="64.84" fill="#f18b29"/>
<rect x="245.95" y="308.69" width="12.3" height="81.02" fill="#f18b29"/>
<rect x="73.05" y="319.57" width="12.3" height="70.12" fill="#368a1f"/>
<rect x="134.75" y="262.15" width="12.3" height="127.55" fill="#368a1f"/>
<rect x="196.45" y="243.18" width="12.3" height="146.52" fill="#368a1f"/>
<rect x="258.25" y="221.73" width="12.3" height="167.97" fill="#368a1f"/>
<rect x="37.3" y="213.6" width="244.0" height="176.29999999999998" fill="none" stroke="#7a7a7a" stroke-width="0.9"/>
<line x1="34.8" y1="389.70" x2="37.3" y2="389.70" stroke="#999" stroke-width="0.6"/>
<text x="33.8" y="391.90" font-size="6.3" text-anchor="end" fill="#222">0</text>
<line x1="34.8" y1="356.70" x2="37.3" y2="356.70" stroke="#999" stroke-width="0.6"/>
<text x="33.8" y="358.90" font-size="6.3" text-anchor="end" fill="#222">2</text>
<line x1="34.8" y1="323.70" x2="37.3" y2="323.70" stroke="#999" stroke-width="0.6"/>
<text x="33.8" y="325.90" font-size="6.3" text-anchor="end" fill="#222">4</text>
<line x1="34.8" y1="290.70" x2="37.3" y2="290.70" stroke="#999" stroke-width="0.6"/>
<text x="33.8" y="292.90" font-size="6.3" text-anchor="end" fill="#222">6</text>
<line x1="34.8" y1="257.70" x2="37.3" y2="257.70" stroke="#999" stroke-width="0.6"/>
<text x="33.8" y="259.90" font-size="6.3" text-anchor="end" fill="#222">8</text>
<line x1="34.8" y1="224.70" x2="37.3" y2="224.70" stroke="#999" stroke-width="0.6"/>
<text x="33.8" y="226.90" font-size="6.3" text-anchor="end" fill="#222">10</text>
<line x1="66.9" y1="389.9" x2="66.9" y2="392.4" stroke="#999" stroke-width="0.6"/>
<text x="66.9" y="398.8" font-size="8.2" text-anchor="middle" fill="#222"><tspan font-style="italic">T</tspan> + 10 min</text>
<line x1="128.6" y1="389.9" x2="128.6" y2="392.4" stroke="#999" stroke-width="0.6"/>
<text x="128.6" y="398.8" font-size="8.2" text-anchor="middle" fill="#222"><tspan font-style="italic">T</tspan> + 1h</text>
<line x1="190.3" y1="389.9" x2="190.3" y2="392.4" stroke="#999" stroke-width="0.6"/>
<text x="190.3" y="398.8" font-size="8.2" text-anchor="middle" fill="#222"><tspan font-style="italic">T</tspan> + 2h</text>
<line x1="252.1" y1="389.9" x2="252.1" y2="392.4" stroke="#999" stroke-width="0.6"/>
<text x="252.1" y="398.8" font-size="8.2" text-anchor="middle" fill="#222"><tspan font-style="italic">T</tspan> + 3h</text>
<text transform="translate(23.3,301.3) rotate(-90)" font-size="7.9" font-weight="bold" text-anchor="middle" textLength="57.5" lengthAdjust="spacingAndGlyphs">RMSE (mm/hr)</text>
<rect x="40.3" y="217.4" width="95.2" height="33.4" rx="1.5" fill="#fff" fill-opacity="0.8" stroke="#d8d8d8" stroke-width="0.7"/>
<rect x="43.4" y="220.60" width="14.4" height="4.3" fill="#1414f6"/>
<text x="63.2" y="225.70" font-size="8.3" fill="#222">Volume Error</text>
<rect x="43.4" y="231.15" width="14.4" height="4.3" fill="#f18b29"/>
<text x="63.2" y="236.25" font-size="8.3" fill="#222">Displacement Error</text>
<rect x="43.4" y="241.70" width="14.4" height="4.3" fill="#368a1f"/>
<text x="63.2" y="246.80" font-size="8.3" fill="#222">Pattern Error</text>
</g>
<g id="panelD">
<rect x="322.9" y="246.6" width="354.5" height="141.5" fill="#fff" stroke="#c9ccd9" stroke-width="1.1"/>
<text x="352.8" y="257.7" font-size="9.3" font-weight="bold" fill="#111" stroke="#111" stroke-width="0.12" textLength="275" lengthAdjust="spacingAndGlyphs">CRA verification (Verification. grid: 0.01°, CRA threshold: 16 mm hr<tspan font-size="6" dy="-3.2">−1</tspan><tspan dy="3.2">)</tspan></text>
<text x="329.9" y="273.70" font-size="8.3" font-weight="bold" fill="#111" stroke="#111" stroke-width="0.12" textLength="61.1" lengthAdjust="spacingAndGlyphs">Lead Time: 1 hr</text>
<text x="329.9" y="285.26" font-size="8.3" font-weight="bold" fill="#111" stroke="#111" stroke-width="0.12" textLength="66.6" lengthAdjust="spacingAndGlyphs">Original Forecast</text>
<text x="329.9" y="296.82" font-size="8.3" fill="#1e1e1e" stroke="#1e1e1e" stroke-width="0.22" textLength="42.3" lengthAdjust="spacingAndGlyphs">(CC: 0.468,</text>
<text x="329.9" y="308.38" font-size="8.3" fill="#1e1e1e" stroke="#1e1e1e" stroke-width="0.22" textLength="72.2" lengthAdjust="spacingAndGlyphs">RMSE: 8.8 mm/hr)</text>
<text x="329.9" y="319.94" font-size="8.3" font-weight="bold" fill="#111" stroke="#111" stroke-width="0.12" textLength="63.4" lengthAdjust="spacingAndGlyphs">Shifted Forecast</text>
<text x="329.9" y="331.50" font-size="8.3" fill="#1e1e1e" stroke="#1e1e1e" stroke-width="0.22" textLength="37.4" lengthAdjust="spacingAndGlyphs">(CC: 0.47)</text>
<text x="329.9" y="343.06" font-size="8.3" font-weight="bold" fill="#111" stroke="#111" stroke-width="0.12" textLength="82.6" lengthAdjust="spacingAndGlyphs">Error Decomposition</text>
<text x="329.9" y="354.62" font-size="8.3" fill="#1e1e1e" stroke="#1e1e1e" stroke-width="0.22" textLength="105.4" lengthAdjust="spacingAndGlyphs">•Displacement error: 9.1 %</text>
<text x="329.9" y="366.18" font-size="8.3" fill="#1e1e1e" stroke="#1e1e1e" stroke-width="0.22" textLength="79.2" lengthAdjust="spacingAndGlyphs">•Volume error: 2.9%</text>
<text x="329.9" y="377.74" font-size="8.3" fill="#1e1e1e" stroke="#1e1e1e" stroke-width="0.22" textLength="83.0" lengthAdjust="spacingAndGlyphs">•Pattern error: 88.1%</text>
<text x="445.3" y="273.70" font-size="8.3" font-weight="bold" fill="#111" stroke="#111" stroke-width="0.12" textLength="61.1" lengthAdjust="spacingAndGlyphs">Lead Time: 2 hr</text>
<text x="445.3" y="285.26" font-size="8.3" font-weight="bold" fill="#111" stroke="#111" stroke-width="0.12" textLength="66.6" lengthAdjust="spacingAndGlyphs">Original Forecast</text>
<text x="445.3" y="296.82" font-size="8.3" fill="#1e1e1e" stroke="#1e1e1e" stroke-width="0.22" textLength="38.8" lengthAdjust="spacingAndGlyphs">(CC: 0.27,</text>
<text x="445.3" y="308.38" font-size="8.3" fill="#1e1e1e" stroke="#1e1e1e" stroke-width="0.22" textLength="75.3" lengthAdjust="spacingAndGlyphs">RMSE: 13.2 mm/hr)</text>
<text x="445.3" y="319.94" font-size="8.3" font-weight="bold" fill="#111" stroke="#111" stroke-width="0.12" textLength="63.4" lengthAdjust="spacingAndGlyphs">Shifted Forecast</text>
<text x="445.3" y="331.50" font-size="8.3" fill="#1e1e1e" stroke="#1e1e1e" stroke-width="0.22" textLength="37.4" lengthAdjust="spacingAndGlyphs">(CC: 0.39)</text>
<text x="445.3" y="343.06" font-size="8.3" font-weight="bold" fill="#111" stroke="#111" stroke-width="0.12" textLength="82.6" lengthAdjust="spacingAndGlyphs">Error Decomposition</text>
<text x="445.3" y="354.62" font-size="8.3" fill="#1e1e1e" stroke="#1e1e1e" stroke-width="0.22" textLength="103.9" lengthAdjust="spacingAndGlyphs">•Displacement error: 29.8%</text>
<text x="445.3" y="366.18" font-size="8.3" fill="#1e1e1e" stroke="#1e1e1e" stroke-width="0.22" textLength="79.2" lengthAdjust="spacingAndGlyphs">•Volume error: 2.6%</text>
<text x="445.3" y="377.74" font-size="8.3" fill="#1e1e1e" stroke="#1e1e1e" stroke-width="0.22" textLength="83.0" lengthAdjust="spacingAndGlyphs">•Pattern error: 67.6%</text>
<text x="564.9" y="273.70" font-size="8.3" font-weight="bold" fill="#111" stroke="#111" stroke-width="0.12" textLength="61.1" lengthAdjust="spacingAndGlyphs">Lead Time: 3 hr</text>
<text x="564.9" y="285.26" font-size="8.3" font-weight="bold" fill="#111" stroke="#111" stroke-width="0.12" textLength="66.6" lengthAdjust="spacingAndGlyphs">Original Forecast</text>
<text x="564.9" y="296.82" font-size="8.3" fill="#1e1e1e" stroke="#1e1e1e" stroke-width="0.22" textLength="38.8" lengthAdjust="spacingAndGlyphs">(CC: 0.18,</text>
<text x="564.9" y="308.38" font-size="8.3" fill="#1e1e1e" stroke="#1e1e1e" stroke-width="0.22" textLength="75.3" lengthAdjust="spacingAndGlyphs">RMSE: 15.5 mm/hr)</text>
<text x="564.9" y="319.94" font-size="8.3" font-weight="bold" fill="#111" stroke="#111" stroke-width="0.12" textLength="63.4" lengthAdjust="spacingAndGlyphs">Shifted Forecast</text>
<text x="564.9" y="331.50" font-size="8.3" fill="#1e1e1e" stroke="#1e1e1e" stroke-width="0.22" textLength="37.4" lengthAdjust="spacingAndGlyphs">(CC: 0.35)</text>
<text x="564.9" y="343.06" font-size="8.3" font-weight="bold" fill="#111" stroke="#111" stroke-width="0.12" textLength="82.6" lengthAdjust="spacingAndGlyphs">Error Decomposition</text>
<text x="564.9" y="354.62" font-size="8.3" fill="#1e1e1e" stroke="#1e1e1e" stroke-width="0.22" textLength="106.2" lengthAdjust="spacingAndGlyphs">•Displacement error: 31.8 %</text>
<text x="564.9" y="366.18" font-size="8.3" fill="#1e1e1e" stroke="#1e1e1e" stroke-width="0.22" textLength="79.2" lengthAdjust="spacingAndGlyphs">•Volume error: 2.7%</text>
<text x="564.9" y="377.74" font-size="8.3" fill="#1e1e1e" stroke="#1e1e1e" stroke-width="0.22" textLength="83.0" lengthAdjust="spacingAndGlyphs">•Pattern error: 65.5%</text>
</g>
</svg></body></html>
